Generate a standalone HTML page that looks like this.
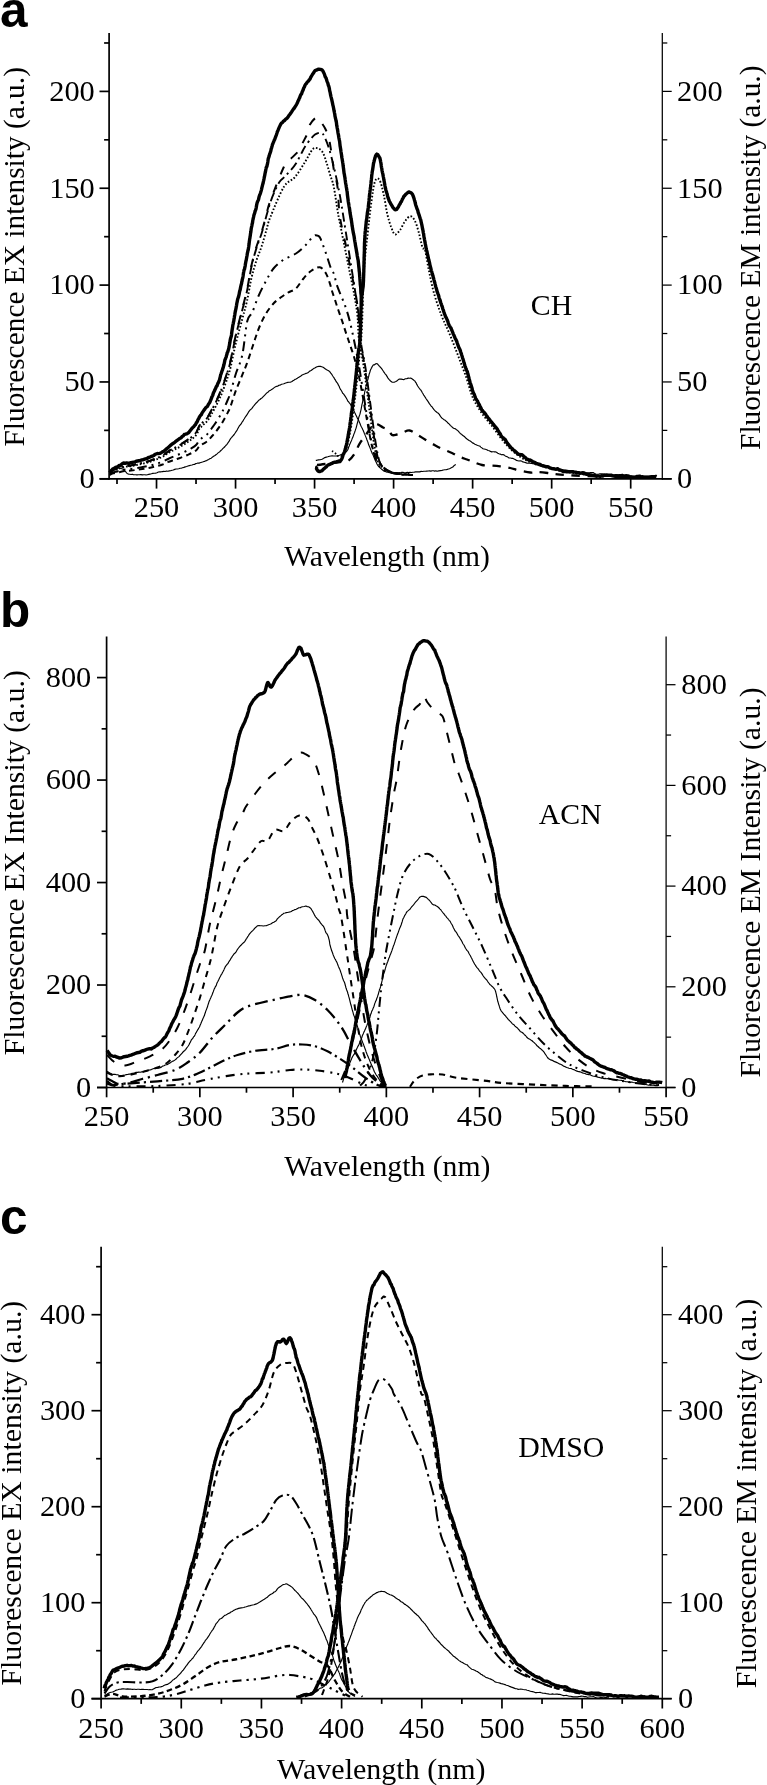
<!DOCTYPE html>
<html><head><meta charset="utf-8"><title>Fluorescence spectra</title>
<style>html,body{margin:0;padding:0;background:#fff}svg{display:block;filter:grayscale(1)}text{fill:#000}</style>
</head><body>
<svg width="767" height="1785" viewBox="0 0 767 1785">
<rect x="0" y="0" width="767" height="1785" fill="#fff"/>
<path d="M109.8,472.7L110.6,471.4L111.7,470.1L113.0,468.8L114.1,468.4L115.3,467.5L116.6,467.2L118.0,466.5L119.3,465.4L120.7,465.3L122.2,463.8L123.6,463.0L125.0,463.4L126.6,462.9L128.0,463.2L129.5,463.2L131.0,462.7L132.3,462.4L133.6,462.1L134.9,461.9L136.2,461.2L137.5,461.0L138.8,460.8L140.1,460.6L141.4,460.0L142.7,459.9L144.0,459.4L145.5,458.8L147.0,458.5L148.5,457.5L150.0,457.1L151.2,456.5L152.4,456.2L153.6,455.6L154.8,454.6L156.0,454.0L157.3,453.5L158.6,453.6L159.9,453.4L161.2,452.8L162.5,451.7L163.6,451.5L164.7,450.4L165.8,449.4L166.9,448.5L167.9,447.8L169.0,446.8L170.2,445.6L171.4,444.6L172.6,443.7L173.8,443.0L175.0,442.1L176.2,441.0L177.4,440.3L178.6,439.3L179.8,438.4L181.0,438.0L182.1,436.5L183.2,436.0L184.3,434.5L185.5,434.2L186.5,433.9L187.5,433.4L188.8,432.5L189.9,431.0L190.9,429.7L192.0,428.3L192.9,427.3L193.8,426.7L194.7,425.3L195.5,424.7L196.3,422.8L196.9,422.2L197.5,421.0L198.0,419.7L198.5,418.9L199.0,417.9L199.8,416.4L200.5,415.4L201.3,414.7L202.1,412.9L203.0,411.6L204.0,410.1L204.8,409.1L205.7,407.8L206.6,407.0L207.5,406.3L208.1,405.1L208.6,404.1L209.2,403.3L209.8,402.4L210.4,400.8L211.0,399.6L211.5,398.0L212.1,396.5L212.7,395.5L213.3,393.2L213.8,392.1L214.4,391.0L215.0,389.5L215.5,388.6L216.0,387.3L216.5,386.3L217.0,385.9L217.5,384.3L218.0,383.1L218.5,382.4L219.0,381.0L219.5,380.0L219.9,378.2L220.3,376.8L220.7,374.5L221.1,373.8L221.5,372.5L222.0,370.9L222.5,369.8L222.8,368.4L223.2,367.7L223.5,366.3L223.9,364.8L224.3,363.1L224.6,361.7L225.0,359.7L225.4,359.0L225.8,357.7L226.2,356.9L226.5,355.5L226.9,354.4L227.2,352.8L227.5,352.4L227.9,351.5L228.2,350.2L228.5,349.6L228.7,348.5L229.0,347.5L229.2,346.4L229.5,344.4L229.8,342.9L230.1,340.9L230.5,338.6L230.7,337.9L230.9,337.7L231.1,336.7L231.3,336.2L231.5,334.8L231.7,333.0L231.9,331.5L232.1,330.1L232.3,328.9L232.6,326.9L232.8,325.4L233.0,324.5L233.3,323.3L233.5,321.9L233.8,320.9L234.0,319.2L234.3,317.8L234.5,316.1L234.8,314.8L235.0,313.3L235.3,311.5L235.5,310.8L235.8,309.2L236.0,308.5L236.3,306.6L236.5,305.6L236.8,303.5L237.1,302.1L237.3,301.1L237.6,299.6L237.9,298.4L238.2,297.8L238.5,296.9L238.8,295.6L239.1,294.6L239.3,293.3L239.6,291.5L239.9,290.5L240.2,289.6L240.5,287.9L240.8,286.4L241.0,285.5L241.3,284.3L241.6,283.2L241.8,281.8L242.1,280.9L242.3,279.3L242.6,278.5L242.9,277.1L243.2,275.2L243.5,272.9L243.8,271.5L244.1,269.8L244.4,269.6L244.6,268.7L244.9,267.2L245.2,265.8L245.4,264.1L245.7,262.5L245.9,261.3L246.2,260.2L246.5,258.5L246.7,257.3L247.0,255.7L247.2,254.4L247.4,252.9L247.6,252.5L247.8,251.2L248.1,250.4L248.3,249.4L248.5,248.0L248.7,246.8L248.9,245.1L249.1,243.9L249.3,241.8L249.5,240.4L249.7,238.9L249.9,238.1L250.1,236.4L250.3,235.7L250.5,233.7L250.8,232.1L251.0,230.6L251.2,228.8L251.4,227.7L251.6,226.8L251.9,225.6L252.2,223.7L252.5,222.7L252.7,221.0L253.0,219.5L253.3,218.2L253.6,216.9L253.9,215.3L254.2,214.4L254.5,213.5L254.8,212.6L255.1,211.1L255.4,210.7L255.7,209.8L256.0,208.9L256.3,207.3L256.6,205.2L257.0,203.3L257.4,202.0L257.7,201.3L258.1,200.5L258.5,199.6L258.9,197.7L259.2,196.5L259.6,195.2L260.0,194.5L260.4,193.3L260.7,192.2L261.1,191.0L261.5,189.6L261.8,188.0L262.1,186.8L262.4,185.6L262.7,184.3L263.1,183.2L263.4,181.5L263.7,180.4L264.0,178.9L264.2,177.7L264.5,176.5L264.8,174.9L265.1,173.1L265.4,172.0L265.7,170.4L266.0,168.8L266.2,167.5L266.5,167.2L266.9,166.3L267.2,164.9L267.5,163.8L267.8,162.0L268.1,159.7L268.4,158.2L268.8,157.3L269.1,156.3L269.4,155.0L269.7,154.2L270.0,153.3L270.4,152.2L270.8,151.0L271.2,148.9L271.6,147.8L272.1,146.0L272.5,144.3L272.9,143.6L273.4,142.2L273.8,141.4L274.2,140.2L274.7,139.5L275.1,138.3L275.7,136.6L276.3,135.1L276.9,133.3L277.4,131.6L278.0,130.5L278.6,128.8L279.2,127.4L279.8,126.1L280.7,124.2L281.6,122.9L282.5,122.4L283.5,121.2L284.5,120.5L285.3,119.6L286.2,118.8L287.1,118.1L288.1,116.9L289.0,115.4L289.9,114.4L290.8,113.0L291.6,111.9L292.4,110.6L293.2,109.4L294.0,108.5L294.8,107.3L295.5,106.2L296.3,104.9L296.9,103.8L297.4,102.8L298.0,101.2L298.6,100.2L299.1,98.7L299.7,97.6L300.2,96.1L300.8,94.7L301.2,94.3L301.7,93.5L302.3,91.6L302.8,90.7L303.3,89.5L303.8,87.8L304.3,87.0L305.0,85.3L305.6,84.2L306.2,83.7L307.0,82.6L307.7,81.6L308.5,81.1L309.3,79.7L310.0,79.1L310.7,77.3L311.3,76.5L312.4,74.5L313.3,73.2L314.1,72.0L315.0,70.6L316.3,70.2L317.6,69.5L318.8,69.2L320.5,69.4L322.0,69.9L322.8,70.8L323.6,72.4L324.5,74.4L324.9,75.7L325.2,76.7L325.6,77.3L326.1,78.1L326.5,79.4L326.9,80.8L327.4,82.1L327.9,83.3L328.3,85.2L328.8,86.3L329.1,87.4L329.4,88.8L329.6,90.4L329.9,91.5L330.2,92.7L330.5,94.5L330.8,95.8L331.1,97.1L331.4,98.2L331.7,99.4L332.0,100.8L332.3,102.2L332.6,103.7L332.9,105.3L333.2,106.2L333.5,107.8L333.8,109.4L334.0,110.5L334.3,111.8L334.5,113.0L334.8,114.4L335.0,116.2L335.3,117.4L335.5,118.5L335.8,119.5L336.0,120.7L336.3,121.8L336.5,123.2L336.7,125.3L337.0,126.7L337.2,128.1L337.5,129.4L337.7,130.6L337.9,132.2L338.2,134.0L338.4,134.4L338.6,136.1L338.8,137.3L339.0,138.3L339.2,139.4L339.5,140.8L339.7,142.1L339.9,144.2L340.1,146.0L340.3,146.8L340.4,147.8L340.6,148.9L340.8,150.1L341.0,151.7L341.2,153.0L341.4,154.2L341.6,155.4L341.7,156.8L341.9,157.9L342.1,158.7L342.3,160.0L342.5,161.2L342.7,162.5L342.9,163.6L343.1,165.6L343.3,166.9L343.5,168.6L343.7,170.0L343.9,171.7L344.1,173.4L344.3,174.0L344.5,175.3L344.7,176.7L344.9,177.5L345.1,179.3L345.3,180.3L345.5,182.2L345.7,183.4L345.9,184.4L346.1,185.2L346.3,187.0L346.5,188.0L346.7,189.2L346.9,190.6L347.1,191.5L347.3,193.3L347.4,194.8L347.6,196.2L347.8,197.8L348.0,199.2L348.2,201.2L348.4,202.3L348.6,203.4L348.8,204.4L349.0,205.8L349.2,207.0L349.4,207.9L349.6,209.1L349.8,210.8L350.0,212.4L350.2,213.6L350.4,214.8L350.6,215.9L350.8,217.1L351.0,218.4L351.3,219.9L351.5,221.0L351.7,222.5L351.9,223.8L352.1,225.9L352.4,227.2L352.6,228.9L352.8,229.8L353.0,231.0L353.2,232.1L353.5,233.7L353.7,234.5L353.9,235.5L354.1,236.4L354.3,237.8L354.5,239.4L354.8,241.3L355.0,242.2L355.3,243.9L355.5,245.6L355.8,247.0L356.0,248.1L356.3,249.7L356.5,251.2L356.7,252.1L357.0,253.9L357.2,255.5L357.4,256.8L357.6,257.4L357.8,258.9L358.0,259.5L358.2,260.6L358.4,262.5L358.5,263.7L358.7,265.6L358.8,266.5L359.0,268.2L359.1,269.2L359.2,270.9L359.4,272.0L359.5,273.2L359.6,274.5L359.7,276.2L359.8,277.0L359.9,278.9L360.0,280.2L360.1,281.3L360.2,282.5L360.3,284.5L360.4,285.0L360.6,286.4L360.7,287.5L360.8,289.5L360.8,290.5L360.9,293.0L361.0,293.8L361.1,294.3L361.2,295.3L361.2,296.2L361.3,297.5L361.4,299.6L361.5,301.6L361.6,303.0L361.7,304.2L361.8,304.8L361.8,306.1" fill="none" stroke="#000" stroke-width="3.40" stroke-linejoin="round" stroke-linecap="butt"/>
<path d="M109.8,472.6C110.3,472.2 111.6,470.8 113.0,470.0C114.4,469.3 116.0,469.0 118.0,468.3C120.0,467.7 122.8,466.5 125.0,466.1C127.2,465.6 128.9,465.7 131.0,465.4C133.1,465.0 135.3,464.4 137.5,463.9C139.7,463.4 141.9,462.9 144.0,462.4C146.1,461.9 148.0,461.4 150.0,460.7C152.0,460.0 153.9,459.3 156.0,458.4C158.1,457.5 160.3,456.7 162.5,455.4C164.7,454.2 166.9,452.2 169.0,450.9C171.1,449.6 173.0,448.7 175.0,447.5C177.0,446.4 178.9,445.4 181.0,444.1C183.1,442.8 185.7,441.1 187.5,439.9C189.3,438.6 190.5,437.8 192.0,436.5C193.5,435.2 195.1,433.8 196.3,432.1C197.5,430.4 198.2,427.7 199.0,426.3C199.8,424.9 200.5,424.5 201.3,423.6C202.1,422.6 203.0,421.8 204.0,420.7C205.0,419.7 206.3,418.8 207.5,417.2C208.7,415.5 209.8,413.3 211.0,411.0C212.2,408.7 213.7,406.0 215.0,403.3C216.3,400.6 217.8,397.7 219.0,394.8C220.2,392.0 221.1,390.2 222.5,386.3C223.9,382.4 226.2,375.7 227.5,371.4C228.8,367.2 229.1,366.9 230.5,360.7C231.9,354.4 234.0,342.7 236.0,334.0C238.0,325.4 240.5,316.3 242.3,309.0C244.1,301.6 245.4,297.2 247.0,289.8C248.6,282.5 250.0,271.9 251.6,264.8C253.2,257.7 254.6,252.8 256.3,247.3C258.0,241.7 260.1,236.8 261.8,231.3C263.5,225.7 265.1,219.1 266.5,214.0C267.9,208.9 267.5,208.5 270.4,200.7C273.3,192.8 280.7,173.6 283.8,167.0C286.9,160.4 286.3,163.5 288.8,160.8C291.3,158.1 296.5,153.7 298.8,150.8C301.1,147.9 301.1,146.2 302.5,143.3C303.9,140.4 306.2,136.4 307.5,133.3C308.8,130.2 308.5,127.1 310.0,124.5C311.5,121.9 314.6,118.1 316.3,117.5C318.0,116.9 318.6,119.0 320.0,120.8C321.4,122.6 323.5,125.4 325.0,128.3C326.5,131.2 327.8,134.4 328.8,138.3C329.9,142.2 330.5,146.8 331.3,152.0C332.1,157.2 332.8,163.7 333.8,169.5C334.8,175.3 336.5,179.2 337.5,187.0C338.5,194.8 338.4,206.2 339.8,216.0C341.2,225.8 344.1,236.8 346.0,246.0C347.9,255.2 349.3,262.7 351.0,271.0C352.7,279.3 354.8,288.5 356.0,296.0C357.2,303.5 357.9,308.7 358.5,316.0C359.1,323.3 358.8,331.6 359.8,339.8C360.8,348.0 362.9,354.6 364.5,365.0C366.1,375.4 367.8,390.0 369.5,402.5C371.2,415.0 373.0,430.4 374.5,440.0C376.0,449.6 377.1,455.7 378.3,460.0C379.6,464.3 380.1,464.1 382.0,466.0C383.9,467.9 386.6,470.1 389.5,471.5C392.4,472.9 395.8,473.8 399.5,474.3C403.2,474.8 409.9,474.6 412.0,474.6" fill="none" stroke="#000" stroke-width="2.00" stroke-linejoin="round" stroke-linecap="butt" stroke-dasharray="8.5,11"/>
<path d="M109.8,472.6C110.3,472.2 111.6,470.8 113.0,470.1C114.4,469.4 116.0,469.1 118.0,468.4C120.0,467.7 122.8,466.6 125.0,466.1C127.2,465.6 128.9,465.8 131.0,465.4C133.1,465.1 135.3,464.5 137.5,464.0C139.7,463.5 141.9,463.0 144.0,462.5C146.1,462.0 148.0,461.5 150.0,460.8C152.0,460.1 153.9,459.4 156.0,458.5C158.1,457.6 160.3,456.8 162.5,455.6C164.7,454.3 166.9,452.4 169.0,451.1C171.1,449.8 173.0,448.8 175.0,447.7C177.0,446.6 178.9,445.6 181.0,444.3C183.1,443.1 185.7,441.4 187.5,440.1C189.3,438.8 190.5,438.0 192.0,436.7C193.5,435.4 195.1,434.0 196.3,432.3C197.5,430.6 198.2,428.0 199.0,426.6C199.8,425.2 200.5,424.8 201.3,423.9C202.1,423.0 203.0,422.1 204.0,421.1C205.0,420.0 206.3,419.2 207.5,417.5C208.7,415.9 209.8,413.7 211.0,411.4C212.2,409.1 213.7,406.4 215.0,403.8C216.3,401.1 217.8,398.1 219.0,395.3C220.2,392.5 221.1,390.7 222.5,386.9C223.9,383.0 226.2,376.3 227.5,372.1C228.8,367.8 229.1,367.5 230.5,361.3C231.9,355.1 234.0,343.5 236.0,334.9C238.0,326.3 240.5,317.3 242.3,310.0C244.1,302.6 245.4,298.3 247.0,291.0C248.6,283.6 250.0,273.1 251.6,266.0C253.2,259.0 254.6,254.2 256.3,248.6C258.0,243.1 260.1,238.2 261.8,232.7C263.5,227.2 265.1,220.7 266.5,215.6C267.9,210.5 269.0,206.5 270.4,202.3C271.8,198.1 273.5,194.0 275.1,190.5C276.7,187.0 278.2,183.8 279.8,181.5C281.4,179.3 282.7,178.8 284.5,176.9C286.3,175.0 288.8,172.4 290.8,170.1C292.8,167.8 294.5,165.8 296.3,162.9C298.1,160.1 300.2,155.5 301.7,152.8C303.1,150.1 303.4,149.1 305.0,146.7C306.6,144.3 309.6,140.3 311.3,138.3C313.0,136.3 313.8,135.5 315.0,134.6C316.2,133.7 317.6,133.2 318.8,132.9C320.0,132.7 321.1,132.7 322.0,133.4C322.9,134.0 323.4,134.3 324.5,136.7C325.6,139.1 327.2,142.7 328.8,147.7C330.4,152.7 332.1,159.7 333.8,166.7C335.5,173.8 337.4,182.6 338.8,190.0C340.2,197.4 339.6,192.8 342.5,211.1C345.4,229.4 353.7,281.9 356.5,300.0C359.3,318.1 358.4,312.8 359.2,320.0C359.9,327.2 359.9,335.0 361.0,343.0C362.1,351.0 363.9,357.7 365.5,368.0C367.1,378.3 368.8,392.7 370.5,405.0C372.2,417.3 374.0,432.7 375.5,442.0C377.0,451.3 378.1,456.8 379.3,461.0C380.6,465.2 381.1,465.2 383.0,467.0C384.9,468.8 387.6,470.8 390.5,472.0C393.4,473.2 396.8,474.0 400.5,474.5C404.2,475.0 410.9,474.9 413.0,475.0" fill="none" stroke="#000" stroke-width="1.90" stroke-linejoin="round" stroke-linecap="butt" stroke-dasharray="9,4,2,4"/>
<path d="M109.8,473.0C110.3,472.6 111.6,471.2 113.0,470.6C114.4,469.9 116.0,469.6 118.0,469.0C120.0,468.3 122.8,467.3 125.0,466.8C127.2,466.3 128.9,466.5 131.0,466.2C133.1,465.8 135.3,465.3 137.5,464.8C139.7,464.3 141.9,463.9 144.0,463.4C146.1,462.9 148.0,462.4 150.0,461.8C152.0,461.1 153.9,460.4 156.0,459.6C158.1,458.8 160.3,458.0 162.5,456.8C164.7,455.6 166.9,453.8 169.0,452.6C171.1,451.3 173.0,450.4 175.0,449.4C177.0,448.3 178.9,447.4 181.0,446.2C183.1,445.0 185.7,443.4 187.5,442.2C189.3,441.0 190.5,440.2 192.0,439.0C193.5,437.7 195.1,436.4 196.3,434.8C197.5,433.2 198.2,430.7 199.0,429.4C199.8,428.0 200.5,427.7 201.3,426.8C202.1,425.9 203.0,425.2 204.0,424.2C205.0,423.2 206.3,422.3 207.5,420.8C208.7,419.3 209.8,417.1 211.0,415.0C212.2,412.8 213.7,410.3 215.0,407.8C216.3,405.2 217.8,402.4 219.0,399.8C220.2,397.1 221.1,395.4 222.5,391.8C223.9,388.1 226.2,381.8 227.5,377.8C228.8,373.7 229.1,373.5 230.5,367.6C231.9,361.7 234.0,350.7 236.0,342.6C238.0,334.5 240.5,325.9 242.3,319.0C244.1,312.0 245.4,307.9 247.0,301.0C248.6,294.0 250.0,284.0 251.6,277.4C253.2,270.7 254.6,266.1 256.3,260.9C258.0,255.6 260.1,251.1 261.8,245.8C263.5,240.6 265.1,234.4 266.5,229.6C267.9,224.8 267.5,224.1 270.4,217.0C273.3,209.9 279.7,193.7 283.8,187.0C287.9,180.3 291.5,181.2 295.0,177.0C298.5,172.8 302.1,166.6 305.0,162.0C307.9,157.4 310.4,151.8 312.5,149.5C314.6,147.2 315.8,147.9 317.5,148.3C319.2,148.7 321.0,149.7 322.5,152.0C324.0,154.3 325.1,158.2 326.3,162.0C327.6,165.8 328.8,170.3 330.0,174.5C331.2,178.7 332.4,180.1 333.8,187.0C335.2,193.9 336.7,206.2 338.5,216.0C340.3,225.8 342.7,236.8 344.5,246.0C346.3,255.2 347.8,262.7 349.5,271.0C351.2,279.3 353.2,288.5 354.5,296.0C355.8,303.5 356.8,308.7 357.5,316.0C358.2,323.3 358.0,331.6 359.0,339.8C360.0,348.0 361.9,354.6 363.5,365.0C365.1,375.4 366.8,390.0 368.5,402.5C370.2,415.0 372.0,430.4 373.5,440.0C375.0,449.6 376.1,455.7 377.3,460.0C378.6,464.3 379.1,464.2 381.0,466.0C382.9,467.8 385.6,469.7 388.5,471.0C391.4,472.3 394.8,473.3 398.5,473.8C402.2,474.3 408.9,474.0 411.0,474.0" fill="none" stroke="#000" stroke-width="1.90" stroke-linejoin="round" stroke-linecap="butt" stroke-dasharray="1.6,1.9"/>
<path d="M109.8,474.3C110.3,474.0 111.6,472.9 113.0,472.4C114.4,471.9 116.0,471.7 118.0,471.2C120.0,470.7 122.8,469.9 125.0,469.5C127.2,469.1 128.9,469.3 131.0,469.0C133.1,468.7 135.3,468.3 137.5,467.9C139.7,467.6 141.9,467.2 144.0,466.8C146.1,466.4 148.0,466.1 150.0,465.6C152.0,465.1 153.9,464.6 156.0,463.9C158.1,463.3 160.3,462.7 162.5,461.8C164.7,460.8 166.9,459.4 169.0,458.5C171.1,457.5 173.0,456.8 175.0,456.0C177.0,455.2 178.9,454.4 181.0,453.5C183.1,452.6 185.7,451.3 187.5,450.4C189.3,449.5 190.5,448.9 192.0,447.9C193.5,447.0 195.1,445.9 196.3,444.7C197.5,443.5 198.2,441.5 199.0,440.5C199.8,439.5 200.5,439.2 201.3,438.5C202.1,437.8 203.0,437.2 204.0,436.5C205.0,435.7 206.3,435.0 207.5,433.9C208.7,432.7 209.8,431.0 211.0,429.3C212.2,427.6 213.7,425.7 215.0,423.7C216.3,421.8 217.8,419.6 219.0,417.5C220.2,415.5 221.1,414.2 222.5,411.3C223.9,408.5 226.2,403.6 227.5,400.5C228.8,397.4 229.1,397.2 230.5,392.6C231.9,388.1 234.0,379.5 236.0,373.2C238.0,366.9 240.4,363.6 242.3,354.9C244.2,346.2 245.6,328.1 247.3,321.0C249.0,313.9 250.4,316.5 252.3,312.3C254.2,308.1 256.2,301.2 258.5,296.0C260.8,290.8 263.5,285.6 266.0,281.0C268.5,276.4 270.6,272.0 273.5,268.5C276.4,265.0 279.8,262.3 283.5,259.8C287.2,257.3 292.2,256.0 296.0,253.5C299.8,251.0 303.1,247.7 306.0,244.8C308.9,241.9 311.4,237.5 313.5,236.0C315.6,234.5 317.2,235.4 318.5,236.0C319.8,236.6 319.8,236.9 321.0,239.8C322.2,242.7 324.3,248.7 326.0,253.5C327.7,258.3 329.6,265.0 331.0,268.5C332.4,272.0 333.3,271.9 334.2,274.4C335.1,276.9 335.3,280.0 336.3,283.3C337.3,286.6 338.9,290.5 340.4,294.2C341.9,297.9 343.5,301.1 345.1,305.7C346.7,310.3 348.4,315.4 350.0,322.0C351.6,328.6 353.3,336.7 355.0,345.0C356.7,353.3 358.2,361.2 360.0,372.0C361.8,382.8 364.0,397.8 366.0,410.0C368.0,422.2 370.2,436.3 372.0,445.0C373.8,453.7 375.0,457.8 377.0,462.0C379.0,466.2 381.0,468.1 384.0,470.0C387.0,471.9 390.7,472.8 395.0,473.5C399.3,474.2 407.5,474.3 410.0,474.5" fill="none" stroke="#000" stroke-width="2.00" stroke-linejoin="round" stroke-linecap="butt" stroke-dasharray="9.5,5,2,5,2,5"/>
<path d="M109.8,475.0C110.3,474.7 111.6,473.9 113.0,473.4C114.4,473.0 116.0,472.8 118.0,472.4C120.0,472.0 122.8,471.3 125.0,471.0C127.2,470.7 128.9,470.8 131.0,470.6C133.1,470.4 135.3,470.0 137.5,469.7C139.7,469.4 141.9,469.1 144.0,468.8C146.1,468.4 148.0,468.1 150.0,467.7C152.0,467.3 153.9,466.9 156.0,466.3C158.1,465.8 160.3,465.3 162.5,464.5C164.7,463.7 166.9,462.6 169.0,461.7C171.1,460.9 173.0,460.4 175.0,459.7C177.0,459.0 178.9,458.4 181.0,457.6C183.1,456.8 185.7,455.8 187.5,455.0C189.3,454.2 190.5,453.7 192.0,452.9C193.5,452.1 195.1,451.2 196.3,450.2C197.5,449.2 198.2,447.5 199.0,446.7C199.8,445.8 200.5,445.6 201.3,445.0C202.1,444.4 203.0,443.9 204.0,443.3C205.0,442.6 206.3,442.1 207.5,441.1C208.7,440.1 209.8,438.7 211.0,437.3C212.2,435.9 213.7,434.3 215.0,432.6C216.3,431.0 217.8,429.2 219.0,427.4C220.2,425.7 221.1,424.6 222.5,422.2C223.9,419.8 226.2,415.7 227.5,413.1C228.8,410.5 229.1,410.3 230.5,406.5C231.9,402.7 234.0,395.5 236.0,390.2C238.0,385.0 240.5,379.4 242.3,374.9C244.1,370.4 244.9,369.1 247.0,363.2C249.1,357.4 252.7,346.0 254.8,339.8C256.9,333.6 257.9,330.4 259.8,326.0C261.7,321.6 263.7,317.2 266.0,313.5C268.3,309.8 271.0,306.2 273.5,303.5C276.0,300.8 278.5,299.2 281.0,297.3C283.5,295.4 286.0,293.8 288.5,292.3C291.0,290.8 293.5,290.8 296.0,288.5C298.5,286.2 301.0,281.4 303.5,278.5C306.0,275.6 308.3,272.9 311.0,271.0C313.7,269.1 317.3,266.9 319.8,267.3C322.3,267.7 324.3,270.8 326.0,273.5C327.7,276.2 329.0,280.9 330.0,283.8C331.0,286.7 331.1,288.2 332.0,291.0C332.9,293.8 334.1,297.3 335.2,300.5C336.2,303.7 337.2,306.9 338.3,310.0C339.4,313.1 340.4,316.1 341.5,319.2C342.6,322.3 343.6,325.5 344.6,328.6C345.6,331.7 346.6,334.9 347.7,338.0C348.8,341.1 349.8,344.3 350.9,347.4C351.9,350.5 352.8,352.7 354.0,356.8C355.2,360.9 356.7,366.1 358.0,372.0C359.3,377.9 360.5,384.0 362.0,392.0C363.5,400.0 365.3,411.0 367.0,420.0C368.7,429.0 370.3,439.8 372.0,446.0C373.7,452.2 375.1,453.9 377.0,457.5C378.9,461.1 380.8,465.0 383.3,467.5C385.8,470.0 388.4,471.3 392.0,472.5C395.6,473.7 402.8,474.2 405.0,474.5" fill="none" stroke="#000" stroke-width="2.00" stroke-linejoin="round" stroke-linecap="butt" stroke-dasharray="5.7,4.2"/>
<path d="M110.0,472.3L110.8,471.6L112.0,470.4L113.5,469.4L115.0,468.5L116.4,468.3L117.9,468.2L119.5,468.0L121.0,468.5L122.5,469.0L123.7,469.6L124.8,470.8L125.8,471.9L127.1,473.5L128.8,474.2L129.8,474.2L131.0,474.5L132.2,474.2L133.4,474.6L134.8,474.7L136.2,474.8L137.7,474.8L139.2,474.7L140.8,474.6L142.5,474.9L143.7,474.7L144.9,474.7L146.1,475.0L147.4,474.7L148.7,474.4L150.0,474.1L151.4,473.8L152.8,473.4L154.2,473.2L155.6,473.1L157.0,472.8L158.4,472.0L159.8,471.8L161.2,471.8L162.5,471.6L163.8,471.4L165.2,471.5L166.5,471.0L167.9,471.2L169.3,470.9L170.6,470.7L172.0,470.3L173.3,470.0L174.7,469.4L176.0,469.0L177.3,469.0L178.7,468.7L180.0,468.3L181.2,468.2L182.5,467.8L183.9,467.4L185.2,466.9L186.6,466.5L188.0,466.0L189.3,465.6L190.7,465.3L192.0,465.0L193.3,464.5L194.6,464.4L195.8,463.6L197.0,463.3L198.0,463.0L199.1,463.1L200.0,462.7L201.8,462.2L203.2,461.8L204.4,461.4L205.4,460.9L206.4,460.8L207.5,460.1L208.7,459.5L209.9,458.6L211.1,458.3L212.3,457.2L213.6,456.3L215.0,455.5L215.9,454.8L216.8,454.1L217.8,453.1L218.8,452.4L219.8,451.7L220.9,450.5L221.9,449.6L223.0,448.4L224.0,447.5L225.0,446.5L225.8,445.5L226.7,444.6L227.5,443.6L228.3,442.3L229.2,441.2L230.0,439.6L230.8,438.3L231.7,437.4L232.5,436.3L233.3,435.5L234.2,434.5L235.0,433.3L235.7,432.2L236.4,431.2L237.1,430.1L237.9,428.5L238.6,427.2L239.3,426.0L240.0,425.2L240.7,424.5L241.4,423.4L242.1,422.1L242.9,421.2L243.6,419.8L244.3,418.7L245.0,417.5L245.8,416.4L246.7,415.2L247.5,413.9L248.3,412.4L249.2,411.1L250.0,410.2L250.8,409.4L251.7,408.7L252.5,407.7L253.3,406.3L254.2,405.4L255.0,404.3L256.0,403.2L257.0,402.3L258.0,401.2L259.0,400.1L260.0,399.5L261.0,398.5L262.0,397.9L263.0,396.8L264.0,395.8L265.0,394.8L266.1,393.7L267.2,392.6L268.3,391.9L269.4,390.7L270.6,390.2L271.7,389.4L272.8,388.8L273.9,387.9L275.0,387.1L276.3,386.4L277.6,386.3L278.9,385.3L280.2,385.1L281.5,384.2L282.7,384.0L283.9,383.7L285.0,383.2L286.5,382.7L287.8,382.4L288.9,382.3L290.3,382.2L292.0,381.5L292.9,380.8L293.9,380.3L295.0,379.4L296.1,379.0L297.3,378.3L298.5,377.4L299.7,376.7L300.9,376.0L302.2,374.9L303.3,374.5L304.5,374.0L305.8,373.4L307.1,373.1L308.4,372.4L309.7,371.1L311.1,370.5L312.4,369.5L313.6,368.6L314.8,368.0L316.0,367.2L317.0,366.7L318.8,366.4L320.4,366.4L321.7,366.8L323.1,367.3L324.5,368.2L325.5,369.1L326.6,369.8L327.6,370.2L328.6,370.7L329.7,371.6L330.8,373.2L332.0,374.7L332.6,375.7L333.3,376.8L334.0,377.7L334.7,379.2L335.4,380.0L336.1,381.5L336.8,382.3L337.6,383.3L338.3,384.9L339.1,386.2L339.8,388.0L340.5,389.4L341.3,390.5L342.0,391.8L342.7,393.2L343.5,393.9L344.2,394.9L344.9,395.9L345.7,397.1L346.4,398.2L347.2,399.7L347.9,401.2L348.6,401.7L349.3,402.9L350.0,403.7L350.7,404.7L351.4,406.3L352.0,407.2L352.7,408.6L353.4,409.8L354.1,411.2L354.7,412.5L355.3,413.7L355.9,415.0L356.5,416.2L357.1,417.6L357.7,418.6L358.3,419.8L358.9,421.0L359.5,422.4L360.0,423.5L360.6,425.2L361.1,426.3L361.6,427.3L362.2,428.3L362.7,429.4L363.2,430.6L363.8,431.9L364.3,433.2L364.9,434.6L365.4,435.9L365.9,437.1L366.5,438.5L367.0,440.0L367.5,441.3L368.0,442.5L368.5,444.3L369.1,445.7L369.6,446.8L370.1,448.1L370.6,449.3L371.2,451.0L371.7,452.1L372.2,453.6L372.7,454.1L373.2,455.4L373.6,456.4L374.1,457.5L374.5,458.5L375.3,460.6L376.1,462.1L376.7,463.5L377.4,464.7L378.0,465.7L378.7,466.5L379.5,467.3L380.6,468.2L381.7,469.3L382.9,470.2L384.2,471.2L385.8,471.6L386.9,472.2L388.0,472.1L389.3,472.6L390.5,472.6L391.9,472.9L393.5,472.8L395.1,472.6L397.0,472.6L398.1,472.8L399.2,472.6L400.4,472.7L401.7,472.4L403.0,472.4L404.4,472.7L405.7,472.8L407.2,472.4L408.6,472.5L410.0,472.3L411.4,472.5L412.9,472.2L414.3,472.1L415.6,471.9L417.0,471.9L418.3,471.9L419.7,471.9L421.1,471.4L422.5,471.5L423.9,471.2L425.4,471.2L426.8,471.1L428.2,471.0L429.5,470.9L430.9,471.1L432.2,470.7L433.5,470.7L434.7,471.1L435.9,470.8L437.0,471.3L438.8,470.9L440.4,470.6L442.0,470.4L443.4,470.0L444.8,469.8L446.1,469.7L447.3,469.4L448.4,469.0L449.5,468.7L451.3,467.8L452.8,467.1L454.0,465.7L455.0,464.9L455.8,464.5" fill="none" stroke="#000" stroke-width="1.15" stroke-linejoin="round" stroke-linecap="butt"/>
<path d="M317.5,466.6L316.8,467.1L316.5,468.7L317.1,469.8L318.2,471.1L319.5,471.6L320.6,471.1L321.9,470.8L323.2,469.4L324.5,468.4L325.4,467.5L326.3,466.8L327.2,465.7L328.3,464.8L329.5,464.5L330.6,463.9L331.9,463.4L333.3,462.6L334.7,462.2L336.0,462.0L337.3,461.7L338.3,461.2L339.6,460.9L340.5,460.8L341.2,459.9L342.0,458.5L342.5,457.0L342.9,455.5L343.4,454.2L343.9,453.3L344.4,452.0L344.9,450.4L345.3,449.1L345.8,447.3L346.0,446.3L346.3,445.2L346.5,444.3L346.8,443.1L347.0,441.7L347.3,440.5L347.5,439.1L347.8,438.1L348.0,436.5L348.3,435.1L348.5,433.6L348.8,432.2L349.0,431.0L349.3,429.2L349.5,428.1L349.7,426.8L349.9,425.7L350.0,424.2L350.2,422.7L350.4,421.6L350.6,420.3L350.8,418.3L351.0,417.0L351.2,415.4L351.4,413.8L351.6,411.8L351.8,410.9L351.9,410.3L352.1,409.5L352.3,408.0L352.5,406.5L352.7,404.8L352.8,403.3L353.0,401.9L353.1,400.8L353.3,399.5L353.5,398.3L353.7,397.1L353.8,395.6L354.0,394.4L354.1,392.7L354.3,391.5L354.4,389.4L354.6,388.4L354.7,387.4L354.8,385.9L355.0,385.1L355.1,383.9L355.2,382.5L355.4,381.5L355.5,379.9L355.7,378.6L355.8,377.3L355.9,375.8L356.1,375.0L356.2,373.4L356.3,372.5L356.5,370.8L356.6,369.2L356.8,367.4L356.9,366.0L357.0,364.6L357.2,363.4L357.3,362.3L357.4,360.5L357.6,359.2L357.7,357.8L357.8,356.6L358.0,355.3L358.1,354.2L358.2,353.2L358.3,352.4L358.5,350.7L358.7,349.3L358.9,348.3L359.1,347.6L359.3,346.5L359.5,345.3L359.7,344.0L359.8,342.0L360.0,339.4L360.1,338.5L360.1,337.5L360.2,336.7L360.2,335.7L360.2,334.5L360.3,333.0L360.3,332.0L360.4,330.8L360.4,329.6L360.5,328.1L360.5,326.9L360.5,324.9L360.6,323.3L360.6,321.3L360.7,320.2L360.7,318.9L360.8,317.4L360.8,315.3L360.8,314.0L360.9,312.6L360.9,310.7L361.0,309.3L361.0,308.9L361.1,307.8L361.1,306.9L361.2,305.6L361.2,303.8L361.3,302.4L361.4,300.6L361.5,298.8L361.7,297.3L361.8,296.4L361.9,295.3L362.1,294.5L362.2,293.6L362.3,292.3L362.5,291.2L362.6,289.9L362.8,288.7L362.9,287.9L363.0,287.0L363.2,285.9L363.3,283.9L363.4,282.1L363.5,280.6L363.5,280.1L363.5,278.6L363.6,277.6L363.6,276.7L363.7,275.0L363.7,273.4L363.8,271.9L363.8,270.7L363.8,269.5L363.9,268.2L363.9,266.8L363.9,265.4L364.0,264.4L364.0,263.3L364.0,261.5L364.1,260.8L364.1,258.7L364.1,257.5L364.2,256.4L364.2,255.0L364.3,253.7L364.3,252.4L364.4,250.8L364.4,248.4L364.4,247.2L364.5,245.3L364.5,243.4L364.6,241.8L364.7,240.3L364.7,239.4L364.8,238.2L364.9,237.6L364.9,235.7L365.0,234.7L365.1,233.0L365.2,231.8L365.4,230.5L365.5,229.4L365.6,228.0L365.8,226.8L365.9,225.2L366.1,223.5L366.2,221.9L366.4,220.8L366.5,219.6L366.7,218.9L366.9,217.5L367.0,215.8L367.2,215.0L367.3,213.5L367.5,212.0L367.7,211.6L367.8,210.5L368.0,209.2L368.2,207.9L368.3,207.2L368.5,205.5L368.6,204.0L368.8,202.5L369.0,200.9L369.1,199.2L369.3,197.5L369.4,196.2L369.6,194.3L369.7,193.5L369.9,192.2L370.0,191.0L370.2,189.8L370.3,188.9L370.5,187.9L370.7,186.1L370.8,184.7L371.0,183.2L371.1,181.4L371.3,180.0L371.4,179.1L371.6,177.6L371.7,176.0L371.8,175.0L372.0,173.7L372.1,172.8L372.2,172.0L372.4,170.7L372.5,170.4L372.8,168.4L373.1,166.4L373.4,164.2L373.7,162.7L374.0,161.7L374.3,160.5L374.5,159.6L374.8,158.5L375.0,157.9L375.6,155.8L376.2,154.7L376.8,154.1L377.9,154.8L379.0,156.7L379.5,157.6L379.9,158.0L380.5,160.9L380.7,162.1L380.9,162.9L381.1,164.2L381.3,165.9L381.5,167.3L381.8,168.6L382.0,170.3L382.3,171.6L382.5,172.6L382.8,173.8L383.0,174.9L383.3,176.6L383.5,177.5L383.8,179.4L384.1,181.0L384.4,182.5L384.7,184.3L385.0,186.0L385.3,187.4L385.6,188.7L385.9,190.2L386.2,191.3L386.6,192.2L386.9,193.3L387.2,194.3L387.5,195.7L388.0,197.6L388.6,199.1L389.1,200.7L389.6,201.6L390.2,202.6L390.7,203.7L391.3,204.6L392.2,206.1L393.1,207.8L394.0,208.5L394.9,209.6L395.8,209.7L396.7,209.4L397.5,208.1L398.4,206.9L399.2,205.1L400.0,204.0L400.7,202.4L401.3,201.7L401.9,200.4L402.6,198.7L403.2,197.9L403.8,196.5L404.8,195.5L405.7,194.3L406.7,193.5L407.5,192.8L408.8,191.9L410.0,192.4L411.2,192.8L412.5,194.3L412.9,195.3L413.2,196.2L413.6,197.1L414.0,198.4L414.5,200.2L414.9,201.4L415.3,203.3L415.8,205.2L416.3,206.6L416.6,207.5L417.0,208.9L417.4,209.5L417.8,210.7L418.2,212.7L418.6,213.4L419.0,214.9L419.4,215.9L419.8,217.3L420.2,218.6L420.6,219.4L421.0,221.1L421.3,222.7L421.6,223.9L421.9,225.1L422.1,226.2L422.4,227.9L422.6,229.0L422.9,230.1L423.1,231.3L423.3,232.8L423.6,233.7L423.8,235.6L424.0,237.1L424.3,238.2L424.5,239.6L424.8,241.0L425.0,242.1L425.3,243.9L425.6,245.3L425.9,247.0L426.2,248.8L426.5,249.9L426.8,250.9L427.1,252.2L427.4,254.0L427.7,255.0L428.0,256.3L428.3,258.0L428.6,259.2L428.8,260.1L429.2,261.3L429.5,262.6L429.8,264.4L430.0,265.3L430.4,266.8L430.8,268.2L431.3,270.6L431.6,271.3L431.9,272.2L432.2,273.3L432.5,274.2L432.8,275.6L433.2,276.9L433.5,278.0L433.9,279.6L434.3,281.0L434.7,282.4L435.1,284.2L435.5,285.8L435.9,287.2L436.3,288.4L436.7,289.8L437.1,291.5L437.5,292.5L437.9,293.6L438.3,294.6L438.7,295.8L439.1,297.9L439.5,298.7L439.9,300.0L440.3,301.0L440.7,302.7L441.1,303.5L441.5,304.8L441.9,306.0L442.4,307.2L442.8,308.9L443.2,309.7L443.7,311.5L444.1,312.6L444.5,313.9L445.0,315.0L445.5,316.5L446.0,317.3L446.6,318.5L447.1,319.8L447.7,321.1L448.2,322.7L448.8,324.4L449.3,325.7L449.9,326.5L450.5,327.4L451.0,328.1L451.6,329.8L452.1,330.9L452.7,332.3L453.3,334.1L453.8,335.0L454.3,336.2L454.8,337.5L455.3,338.6L455.8,339.4L456.3,340.3L456.8,341.5L457.3,343.2L457.8,344.6L458.3,346.2L458.8,347.5L459.3,348.3L459.8,349.3L460.3,350.5L460.7,352.0L461.2,353.3L461.6,354.8L462.1,356.2L462.5,357.7L463.0,359.1L463.4,360.4L463.8,362.1L464.3,363.2L464.7,365.3L465.1,366.5L465.5,367.2L465.9,368.4L466.3,369.3L466.6,370.3L467.0,371.0L467.4,371.8L467.7,373.5L468.1,374.5L468.4,376.1L468.8,377.3L469.2,379.0L469.7,380.9L470.1,382.7L470.5,383.5L470.9,384.7L471.3,385.9L471.7,387.2L472.1,388.5L472.4,390.2L472.8,391.1L473.1,392.3L473.5,392.8L473.8,393.5L474.4,394.8L474.9,396.2L475.3,397.5L475.7,398.5L476.3,399.3L477.0,400.5L477.5,401.1L478.1,402.5L478.7,403.6L479.4,404.8L480.1,406.5L480.8,407.6L481.6,409.5L482.3,410.5L483.2,411.5L484.0,412.5L484.7,413.0L485.5,414.0L486.3,415.4L487.1,416.3L488.0,417.8L488.8,418.7L489.7,419.8L490.6,421.1L491.4,421.9L492.3,423.0L493.2,424.2L494.0,425.1L494.8,426.3L495.5,427.0L496.3,427.9L497.1,428.8L497.8,430.1L498.6,431.5L499.4,432.7L500.2,433.8L500.9,435.3L501.7,436.6L502.5,437.4L503.2,437.8L504.0,438.9L504.9,439.1L505.8,440.7L506.7,442.3L507.6,443.4L508.5,444.6L509.5,445.9L510.4,446.9L511.3,448.0L512.2,448.7L513.1,449.7L514.0,450.3L515.1,451.1L516.2,452.2L517.3,453.4L518.4,454.3L519.6,454.4L520.7,454.8L521.8,454.6L522.9,455.5L524.0,456.6L525.2,457.4L526.4,458.8L527.6,459.3L528.8,460.0L530.1,460.0L531.3,460.7L532.6,461.5L534.0,462.1L535.1,462.5L536.3,463.4L537.6,463.7L538.8,464.3L540.1,464.5L541.4,465.4L542.7,465.7L544.0,466.0L545.2,466.5L546.5,466.7L547.9,466.6L549.3,467.5L550.7,468.2L552.1,468.6L553.4,468.7L554.8,469.0L556.2,469.1L557.6,468.7L559.0,469.8L560.4,470.1L561.8,470.8L563.2,471.5L564.6,471.4L565.9,471.7L567.3,471.6L568.7,471.7L570.1,471.7L571.5,471.7L572.9,471.9L574.3,472.1L575.7,472.2L577.1,472.6L578.4,472.6L579.8,473.0L581.2,473.1L582.6,473.2L584.0,473.4L585.4,473.8L586.7,474.3L588.0,474.4L589.3,474.8L590.6,474.9L592.0,475.2L593.4,475.4L594.9,475.5L596.5,476.2L597.7,476.1L598.9,476.1L600.1,476.3L601.4,475.8L602.8,476.0L604.1,475.3L605.5,475.4L606.9,475.1L608.3,475.2L609.7,475.3L611.1,475.1L612.6,475.8L614.0,476.1L615.3,476.3L616.5,476.2L617.8,476.2L619.1,476.0L620.4,476.2L621.7,476.5L623.0,476.6L624.4,476.6L625.7,476.4L627.1,476.7L628.4,476.5L629.8,477.2L631.2,477.2L632.6,477.2L634.0,477.2L635.3,477.2L636.7,476.5L638.1,476.4L639.6,476.1L641.1,476.9L642.7,476.8L644.2,477.2L645.7,477.2L647.2,477.2L648.7,477.2L650.1,477.2L651.5,477.2L652.7,477.0L653.8,477.0L654.9,476.6L655.8,476.6L656.5,476.9" fill="none" stroke="#000" stroke-width="3.40" stroke-linejoin="round" stroke-linecap="butt"/>
<path d="M332.0,451.0C332.5,451.3 334.0,452.2 335.0,453.0C336.0,453.8 336.7,455.7 338.0,456.0C339.3,456.3 341.5,456.7 343.0,455.0C344.5,453.3 345.7,450.6 347.0,446.0C348.3,441.4 349.7,435.2 351.0,427.5C352.3,419.8 353.8,408.3 354.8,400.0C355.9,391.7 356.5,385.4 357.3,377.5C358.1,369.6 359.1,360.4 359.8,352.5C360.6,344.6 361.1,343.1 361.8,330.0C362.5,316.9 362.9,289.6 363.8,273.8C364.8,258.0 366.2,246.9 367.5,235.0C368.8,223.1 370.1,211.4 371.3,202.5C372.6,193.6 373.6,185.1 375.0,181.3C376.4,177.6 378.0,177.7 379.5,180.0C381.0,182.3 382.5,189.2 383.8,195.0C385.1,200.8 386.2,209.6 387.5,215.0C388.8,220.4 390.1,224.2 391.3,227.5C392.6,230.8 393.6,234.1 395.0,234.5C396.4,234.9 398.3,232.2 400.0,230.0C401.7,227.8 403.3,223.6 405.0,221.3C406.7,219.0 408.4,216.5 410.0,216.3C411.6,216.1 413.0,217.3 414.5,220.0C416.0,222.7 417.5,227.9 418.8,232.5C420.1,237.1 421.5,244.6 422.5,247.5C423.5,250.4 423.9,246.2 425.0,250.0C426.1,253.8 427.3,262.9 428.8,270.0C430.3,277.1 431.7,285.0 433.8,292.5C435.9,300.0 438.6,307.9 441.3,315.0C444.0,322.1 447.1,327.9 450.0,335.0C452.9,342.1 456.1,350.4 458.8,357.5C461.5,364.6 464.2,371.4 466.3,377.5C468.4,383.6 469.9,389.7 471.3,393.8C472.8,397.9 473.2,398.7 475.0,402.0C476.8,405.3 479.2,409.5 482.0,413.5C484.8,417.5 488.7,421.7 492.0,426.0C495.3,430.3 498.7,435.4 502.0,439.5C505.3,443.6 508.7,447.4 512.0,450.5C515.3,453.6 518.7,455.9 522.0,458.0C525.3,460.1 528.2,461.5 532.0,463.0C535.8,464.5 540.7,465.8 545.0,467.0C549.3,468.2 553.7,469.4 558.0,470.3C562.3,471.2 566.7,472.0 571.0,472.7C575.3,473.4 579.2,474.0 584.0,474.5C588.8,475.0 592.3,475.4 600.0,475.8C607.7,476.2 625.0,476.6 630.0,476.8" fill="none" stroke="#000" stroke-width="1.90" stroke-linejoin="round" stroke-linecap="butt" stroke-dasharray="1.6,1.9"/>
<path d="M315.8,460.3L316.9,460.3L318.4,459.9L320.2,459.7L322.0,459.3L323.4,458.5L324.8,457.6L326.3,457.1L327.8,456.8L329.5,456.2L330.8,456.0L332.2,455.9L333.7,456.0L335.3,456.0L336.8,455.9L338.2,455.5L339.5,455.3L340.7,454.8L341.8,454.4L342.9,453.8L343.9,453.4L344.9,452.7L346.0,452.0L347.0,450.9L347.5,450.3L348.1,449.1L348.6,447.3L349.2,446.0L349.7,444.4L350.3,443.3L350.8,441.9L351.4,440.7L351.9,439.4L352.4,438.0L353.0,436.9L353.5,435.4L354.0,433.9L354.5,432.7L354.9,431.5L355.3,430.4L355.7,429.1L356.1,428.1L356.4,426.9L356.8,425.3L357.2,423.6L357.5,422.8L357.9,421.2L358.3,419.8L358.6,418.2L359.0,416.7L359.3,415.9L359.7,414.9L360.1,413.6L360.4,412.1L360.8,410.6L361.1,409.3L361.4,407.7L361.7,406.1L362.0,404.4L362.3,403.3L362.6,401.8L362.9,400.6L363.2,399.2L363.5,397.6L363.8,396.8L364.1,395.2L364.4,393.9L364.7,392.0L365.0,390.6L365.3,389.3L365.6,387.8L365.9,386.8L366.2,385.8L366.5,384.8L366.7,384.0L367.0,382.7L367.4,380.7L367.9,379.5L368.3,377.8L368.7,376.3L369.1,374.3L369.5,373.2L369.9,372.1L370.3,370.5L370.7,369.6L371.0,369.0L371.4,368.0L371.7,367.8L372.0,366.9L373.4,364.8L374.5,364.8L375.8,363.7L377.0,363.6L377.8,364.3L378.7,365.3L379.5,366.3L380.2,367.0L381.0,367.9L382.0,369.1L382.7,370.2L383.4,371.3L384.3,372.6L385.1,373.8L386.1,374.9L387.0,376.4L388.0,378.1L389.0,379.3L390.1,380.5L391.2,381.6L392.2,382.2L393.3,382.3L394.6,382.1L395.9,381.5L397.1,380.7L398.4,379.6L399.5,379.1L401.1,379.1L402.6,379.4L404.0,379.6L405.4,378.8L406.8,378.6L408.3,378.1L409.5,378.2L410.7,378.1L411.9,378.7L413.3,379.8L414.0,380.4L414.7,380.8L415.4,382.0L416.1,382.8L416.8,384.4L417.7,386.0L418.5,387.3L419.5,388.5L420.1,389.3L420.8,390.0L421.5,391.1L422.2,392.5L423.0,393.7L423.7,395.1L424.5,396.2L425.3,397.4L426.1,398.7L426.9,399.9L427.8,401.2L428.6,402.4L429.5,403.9L430.3,404.8L431.2,406.2L432.0,406.7L432.9,408.2L433.8,409.4L434.7,410.4L435.6,411.3L436.5,412.0L437.4,412.7L438.4,413.3L439.3,414.4L440.2,415.9L441.1,417.1L442.0,418.2L443.0,418.9L444.1,419.7L445.1,420.2L446.2,421.3L447.2,422.1L448.2,423.3L449.3,424.1L450.3,425.3L451.4,426.4L452.4,427.3L453.5,428.2L454.5,428.5L455.5,428.9L456.5,429.7L457.5,430.4L458.5,431.4L459.5,432.6L460.5,433.7L461.5,434.2L462.5,435.3L463.6,436.0L464.7,436.8L465.8,438.0L467.0,439.0L468.0,439.7L469.1,440.5L470.2,441.1L471.3,441.8L472.5,442.9L473.7,443.4L474.9,444.3L476.1,444.7L477.3,445.3L478.5,445.8L479.7,446.0L480.8,447.1L481.9,447.9L483.0,448.8L484.0,449.0L485.4,449.3L486.8,449.7L488.1,450.5L489.3,450.7L490.5,451.4L491.7,451.9L492.9,451.7L494.1,451.8L495.3,451.8L496.5,452.3L497.8,453.2L499.0,453.8L500.2,454.1L501.5,454.8L502.8,454.6L504.0,454.9L505.2,455.9L506.5,456.5L507.8,457.1L509.0,458.0L510.3,458.0L511.5,458.3L512.7,458.3L514.0,458.9L515.2,459.6L516.5,460.4L517.8,460.7L519.0,461.0L520.2,460.8L521.5,461.0L522.9,461.9L524.3,462.2L525.7,462.6L527.1,463.2L528.4,463.1L529.8,463.3L531.2,463.4L532.6,463.3L534.0,464.0L535.4,464.4L536.8,464.6L538.2,464.9L539.6,465.4L540.9,465.8L542.3,466.4L543.7,466.7L545.1,466.8L546.5,467.1L547.8,467.2L549.0,467.3L550.2,467.4L551.4,467.7L552.6,467.6L553.9,468.2L555.4,468.4L557.1,468.5L559.0,469.0L560.0,469.1L561.1,469.6L562.2,469.5L563.4,469.9L564.7,470.1L566.0,470.1L567.3,470.2L568.6,470.6L570.0,470.6L571.4,470.6L572.8,470.6L574.3,471.2L575.7,471.7L577.1,471.8L578.5,472.3L579.9,472.2L581.3,472.1L582.7,471.6L584.0,471.9L585.3,472.3L586.6,472.9L587.9,472.8L589.3,472.8L590.6,472.6L591.9,472.5L593.2,472.6L594.5,473.4L595.8,474.1L597.2,474.3L598.5,474.2L599.8,473.8L601.1,473.7L602.4,473.8L603.7,474.0L605.1,474.0L606.4,474.1L607.7,474.4L609.0,474.8L610.3,475.0L611.6,475.3L613.0,474.7L614.3,474.8L615.6,474.5L617.0,474.5L618.3,474.7L619.7,474.6L621.0,474.6L622.3,474.2L623.7,474.8L625.0,474.7L626.3,474.5L627.6,474.7L628.9,475.1L630.2,475.5L631.5,475.7L632.7,476.2L634.0,476.2L635.4,476.5L636.9,475.9L638.4,475.6L639.9,476.2L641.5,476.2L643.0,476.3L644.6,476.4L646.1,476.4L647.5,476.2L649.0,476.1L650.3,475.9L651.6,475.6L652.8,475.6L653.9,475.5L654.9,475.6L655.8,475.3L656.5,475.1" fill="none" stroke="#000" stroke-width="1.15" stroke-linejoin="round" stroke-linecap="butt"/>
<path d="M317.0,465.0C319.1,464.8 325.7,464.0 329.5,463.5C333.3,463.0 336.9,462.4 340.0,462.0C343.1,461.6 345.6,462.4 348.0,461.0C350.4,459.6 352.6,456.7 354.5,453.8C356.4,450.9 357.6,446.9 359.5,443.8C361.4,440.7 363.9,437.7 365.8,435.0C367.7,432.3 369.6,429.3 371.0,427.5C372.4,425.7 373.3,424.5 374.5,424.0C375.7,423.5 376.6,423.9 378.0,424.5C379.4,425.1 381.3,426.6 383.0,427.5C384.7,428.4 386.8,428.8 388.3,430.0C389.8,431.2 390.6,434.2 392.0,435.0C393.4,435.8 395.3,434.8 397.0,434.5C398.7,434.2 399.9,433.7 402.0,433.0C404.1,432.3 407.0,430.2 409.5,430.5C412.0,430.8 414.3,432.9 417.0,434.5C419.7,436.1 422.9,438.2 425.8,440.0C428.7,441.8 431.8,443.5 434.5,445.0C437.2,446.5 439.1,447.5 442.0,448.8C444.9,450.1 449.3,451.8 452.0,453.0C454.7,454.2 455.8,455.2 458.3,456.3C460.8,457.4 464.5,458.6 467.0,459.5C469.5,460.4 470.8,461.1 473.3,462.0C475.8,462.9 479.0,464.4 482.0,465.0C485.0,465.6 488.4,465.3 491.5,465.5C494.6,465.7 497.2,465.9 500.3,466.3C503.4,466.7 507.2,467.3 510.3,468.0C513.4,468.7 515.7,469.8 519.0,470.5C522.3,471.2 527.2,472.2 530.3,472.5C533.4,472.8 534.5,471.9 537.8,472.0C541.1,472.1 546.7,472.9 550.0,473.3C553.3,473.7 553.6,473.9 557.8,474.3C562.0,474.7 568.0,475.1 575.0,475.5C582.0,475.9 595.8,476.3 600.0,476.5" fill="none" stroke="#000" stroke-width="2.30" stroke-linejoin="round" stroke-linecap="butt" stroke-dasharray="8.4,7.6"/>
<path d="M107.0,1050.4L107.9,1051.6L109.2,1053.5L110.2,1055.0L111.3,1055.5L112.5,1056.0L113.7,1056.4L115.1,1056.2L116.5,1057.0L118.0,1057.4L119.6,1058.1L121.5,1057.8L122.8,1057.2L124.2,1056.7L125.6,1056.5L127.1,1056.3L128.5,1055.9L129.8,1055.4L131.0,1055.1L132.2,1054.6L133.5,1054.2L135.0,1053.5L136.1,1053.1L137.3,1052.7L138.5,1052.5L139.8,1052.3L141.1,1051.3L142.4,1050.8L143.7,1050.7L145.0,1050.2L146.3,1049.5L147.6,1049.1L148.9,1048.8L150.2,1048.7L151.4,1049.0L152.7,1047.9L153.9,1047.5L155.0,1046.6L156.2,1045.9L157.4,1045.1L158.5,1044.2L159.5,1043.1L160.5,1042.1L161.5,1041.4L162.5,1040.0L163.3,1038.9L164.0,1038.3L164.7,1037.4L165.4,1037.0L166.1,1035.7L166.8,1034.3L167.4,1033.1L168.1,1031.9L168.8,1030.9L169.4,1029.0L170.1,1027.6L170.7,1026.4L171.3,1024.8L172.0,1023.3L172.6,1022.2L173.2,1021.1L173.8,1019.8L174.4,1019.0L175.0,1017.9L175.5,1017.1L176.1,1015.7L176.6,1014.4L177.1,1012.8L177.6,1011.4L178.1,1009.7L178.5,1008.8L179.0,1007.4L179.5,1006.7L180.0,1005.9L180.4,1004.0L180.8,1002.6L181.3,1000.8L181.7,999.3L182.1,998.6L182.6,997.4L183.0,996.4L183.4,995.2L183.8,994.2L184.2,992.9L184.6,991.7L185.0,990.3L185.4,988.4L185.8,986.9L186.1,985.9L186.5,984.6L186.8,983.2L187.1,981.6L187.5,980.4L187.8,979.4L188.1,977.6L188.5,976.3L188.8,974.7L189.1,973.5L189.5,971.9L189.8,970.3L190.2,968.4L190.5,966.8L190.8,966.2L191.2,964.7L191.5,963.4L191.8,962.3L192.2,961.2L192.5,960.2L192.9,958.7L193.3,957.5L193.7,956.6L194.1,955.3L194.6,954.4L195.0,953.7L195.5,952.1L196.0,950.2L196.3,949.1L196.5,948.0L196.8,947.2L197.1,945.8L197.4,944.7L197.6,942.8L197.9,941.5L198.2,940.1L198.6,938.7L198.9,937.8L199.2,936.6L199.5,935.2L199.8,933.8L200.1,932.7L200.4,931.1L200.7,929.4L201.0,927.6L201.3,926.7L201.5,924.7L201.8,923.8L202.0,922.2L202.3,920.9L202.5,919.9L202.8,918.2L203.0,917.2L203.2,916.2L203.5,915.3L203.7,914.1L203.9,912.6L204.2,911.0L204.4,910.1L204.6,908.3L204.9,906.9L205.1,905.0L205.4,903.9L205.6,902.8L205.8,901.4L206.1,900.2L206.3,898.9L206.5,897.7L206.7,895.9L207.0,894.4L207.2,892.9L207.4,892.0L207.6,890.5L207.8,889.8L208.1,888.3L208.3,887.9L208.5,886.0L208.7,883.9L209.0,882.4L209.2,880.9L209.4,879.8L209.6,878.7L209.8,877.8L210.1,876.3L210.3,874.6L210.5,873.1L210.7,871.4L210.9,870.6L211.1,869.0L211.3,868.1L211.5,866.7L211.8,865.9L212.0,864.6L212.2,863.0L212.5,861.5L212.7,859.8L212.9,858.3L213.1,856.9L213.3,855.6L213.5,854.3L213.8,852.8L214.0,851.9L214.2,850.6L214.4,849.0L214.6,848.1L214.8,847.0L215.0,845.8L215.3,844.8L215.5,843.6L215.8,842.1L216.0,841.3L216.3,839.6L216.6,838.2L216.8,837.3L217.1,835.4L217.4,834.0L217.7,832.1L217.9,830.9L218.2,829.8L218.5,828.4L218.8,827.5L219.0,826.2L219.3,824.4L219.5,823.0L219.8,821.6L220.0,820.9L220.3,819.7L220.7,818.9L221.0,817.4L221.3,815.7L221.6,813.9L221.8,812.4L222.1,810.9L222.4,810.1L222.7,808.3L223.0,807.4L223.3,805.9L223.6,804.7L223.9,803.9L224.2,802.3L224.5,800.6L224.8,799.6L225.1,798.0L225.4,797.1L225.7,795.2L226.0,793.9L226.3,792.2L226.7,790.6L227.0,789.3L227.3,788.3L227.7,787.4L228.0,786.2L228.4,785.1L228.8,783.9L229.2,782.4L229.5,781.4L229.9,779.4L230.3,778.2L230.6,776.3L231.0,774.8L231.3,773.1L231.6,771.8L231.8,770.8L232.1,769.5L232.4,768.3L232.6,767.2L232.9,766.2L233.1,765.0L233.4,764.1L233.6,762.7L233.9,760.8L234.1,759.0L234.4,757.3L234.7,755.4L235.0,754.3L235.3,752.9L235.5,751.7L235.8,750.9L236.1,749.6L236.3,748.4L236.6,746.8L236.9,745.5L237.2,744.3L237.5,742.5L237.8,741.2L238.1,739.7L238.4,738.7L238.7,737.1L239.0,736.5L239.3,734.8L239.7,733.6L240.0,732.8L240.5,731.0L241.0,729.8L241.5,728.5L242.1,727.3L242.6,726.4L243.2,724.7L243.7,724.2L244.2,722.8L244.8,721.8L245.3,720.4L245.8,718.9L246.3,717.8L246.8,716.8L247.3,715.0L247.7,713.5L248.2,712.0L248.6,710.6L249.0,709.0L249.4,707.3L249.9,706.0L250.3,705.4L250.8,704.3L251.3,703.8L252.1,702.2L253.0,700.9L253.9,699.5L254.8,698.8L255.7,697.5L256.6,696.9L257.5,695.7L258.8,694.8L260.1,694.0L261.4,693.8L262.7,693.4L263.8,692.7L264.5,692.1L265.2,690.8L265.8,688.6L266.4,686.2L266.9,684.5L267.5,682.8L268.0,682.5L269.1,684.1L270.1,686.6L271.3,687.1L271.8,686.6L272.4,685.8L273.0,684.5L273.6,683.3L274.3,681.7L274.9,680.3L275.6,679.4L276.3,678.4L277.1,677.3L278.0,675.8L278.9,674.8L279.8,673.5L280.7,672.7L281.6,671.4L282.5,670.3L283.4,669.4L284.3,668.1L285.2,666.6L286.1,665.1L287.0,664.0L287.9,662.9L288.8,662.5L289.7,661.3L290.6,660.4L291.6,659.3L292.5,658.1L293.4,657.2L294.2,656.3L295.0,655.3L295.9,654.1L296.6,652.4L297.4,650.3L298.1,648.9L298.8,647.6L299.5,647.2L300.2,647.7L301.0,648.4L301.7,650.3L302.4,652.3L303.1,654.3L303.8,655.2L305.2,654.9L306.7,654.3L308.0,654.1L308.6,654.3L309.1,655.0L309.6,656.1L310.1,657.2L310.7,658.6L311.3,660.5L311.6,661.8L312.0,662.6L312.3,663.9L312.7,665.4L313.1,666.4L313.5,667.8L313.9,669.4L314.3,670.7L314.7,672.3L315.1,673.5L315.5,675.0L315.9,676.4L316.3,677.7L316.6,679.3L317.0,680.7L317.3,681.5L317.6,682.5L318.0,683.7L318.3,685.3L318.6,686.5L319.0,687.8L319.3,689.1L319.6,690.9L320.0,692.1L320.3,694.1L320.6,695.1L321.0,696.1L321.3,697.7L321.6,698.7L321.9,700.5L322.2,701.9L322.5,704.0L322.8,705.1L323.1,706.0L323.4,707.1L323.7,708.2L324.0,709.5L324.3,711.2L324.6,712.5L324.9,713.5L325.2,714.6L325.5,715.5L325.8,716.9L326.0,718.2L326.3,719.6L326.6,721.4L326.9,723.0L327.2,723.9L327.5,725.2L327.8,726.6L328.1,728.0L328.4,729.3L328.6,730.4L328.9,731.6L329.2,732.9L329.4,734.7L329.7,736.1L330.0,737.4L330.3,738.6L330.5,739.3L330.8,741.2L331.0,742.5L331.3,744.1L331.6,745.5L331.8,746.1L332.1,748.0L332.4,748.5L332.6,750.4L332.9,751.6L333.1,753.0L333.4,754.7L333.6,756.2L333.8,757.6L334.1,759.2L334.3,761.0L334.5,761.8L334.7,763.0L334.9,764.4L335.1,765.4L335.2,766.8L335.4,768.3L335.6,769.3L335.8,770.5L336.1,771.6L336.3,773.1L336.5,774.4L336.6,775.3L336.8,776.7L337.0,778.3L337.2,779.9L337.3,781.7L337.5,783.0L337.7,784.4L337.9,785.1L338.1,786.6L338.3,788.2L338.5,789.8L338.7,790.5L338.9,792.1L339.1,793.5L339.3,795.0L339.5,796.1L339.8,797.4L340.0,799.5L340.2,800.9L340.4,802.0L340.6,802.9L340.8,804.0L341.0,804.9L341.2,806.6L341.5,808.1L341.7,809.4L341.9,810.6L342.1,812.0L342.4,813.5L342.6,814.5L342.8,816.0L343.1,816.9L343.3,817.9L343.5,819.7L343.7,821.2L344.0,823.3L344.2,824.7L344.4,825.4L344.6,826.6L344.8,827.4L345.0,829.3L345.2,830.7L345.4,832.0L345.6,832.9L345.7,834.5L345.9,835.4L346.1,836.1L346.3,837.4L346.5,838.8L346.6,840.5L346.8,841.8L347.0,843.2L347.1,844.6L347.3,845.8L347.5,847.4L347.6,848.7L347.8,850.6L347.9,851.8L348.1,853.2L348.2,854.5L348.4,855.7L348.5,856.7L348.7,858.0L348.8,859.1L349.0,860.5L349.1,862.1L349.3,863.4L349.4,864.4L349.6,865.9L349.7,867.8L349.8,868.6L349.9,870.3L350.1,871.7L350.2,872.8L350.3,873.9L350.4,875.4L350.6,876.5L350.7,877.8L350.8,879.3L350.9,880.5L351.0,881.9L351.2,883.2L351.3,884.2L351.5,884.8L351.6,886.4L351.8,887.8L352.0,889.1L352.1,890.1L352.3,891.2L352.5,892.1L352.6,892.6L352.8,893.3L353.0,895.0L353.1,896.5L353.3,897.7L353.5,899.9L353.6,901.6L353.8,904.2L353.9,905.1L353.9,906.2L354.0,906.9L354.1,907.9L354.1,909.2L354.2,910.6L354.3,911.8L354.3,913.7L354.4,914.5L354.4,915.7L354.5,917.3L354.6,919.1L354.6,920.0L354.7,921.2L354.7,922.7L354.8,924.7L354.9,926.5L354.9,928.2L355.0,929.8L355.1,931.3L355.1,932.3L355.2,933.6L355.3,934.9L355.3,936.2L355.4,937.6L355.5,938.8L355.6,939.9L355.6,941.6L355.7,943.1L355.8,944.2L355.9,945.8L356.0,946.9L356.1,947.5L356.2,948.5L356.3,949.2L356.5,951.0L356.7,953.0L357.0,955.2L357.2,957.2L357.5,958.2L357.7,959.9L358.0,960.8L358.3,962.1L358.6,962.8L358.9,963.4L359.2,964.7L359.4,965.9L359.7,967.2L360.0,968.3L360.3,969.5L360.6,971.0L360.8,972.6L361.1,974.2L361.3,975.6L361.5,976.8L361.7,978.0L361.9,979.2L362.1,980.7L362.3,982.4L362.5,983.9L362.7,984.8L362.9,986.1L363.1,986.9L363.2,988.0L363.4,989.6L363.6,990.9L363.8,992.3L364.0,994.1L364.2,995.5L364.4,997.0L364.6,998.3L364.8,999.3L365.0,1000.6L365.2,1002.2L365.4,1003.6L365.6,1004.0L365.9,1004.8L366.1,1006.2L366.3,1007.9L366.6,1009.4L366.8,1011.1L367.1,1012.1L367.3,1013.0L367.5,1014.0L367.8,1015.0L368.0,1016.8L368.3,1018.3L368.5,1019.7L368.8,1020.9L369.0,1021.6L369.3,1022.7L369.5,1024.5L369.8,1025.6L370.0,1027.5L370.3,1029.2L370.6,1030.5L370.9,1031.4L371.2,1032.8L371.5,1033.8L371.8,1035.5L372.1,1036.8L372.4,1038.1L372.6,1040.0L372.9,1041.9L373.2,1043.1L373.5,1044.6L373.8,1045.5L374.1,1047.0L374.4,1048.0L374.7,1048.8L375.0,1050.0L375.3,1051.1L375.7,1052.5L376.0,1053.9L376.3,1054.7L376.7,1056.1L377.0,1057.5L377.3,1059.9L377.7,1061.0L378.0,1062.3L378.3,1063.1L378.7,1064.3L379.0,1065.1L379.3,1066.6L379.7,1067.8L380.0,1069.7L380.4,1070.8L380.9,1073.2L381.3,1074.8L381.8,1076.6L382.3,1077.5L382.7,1078.9L383.2,1080.4L383.6,1081.7L384.0,1082.3L384.4,1083.7L384.7,1084.1L385.0,1085.3L386.1,1086.0L386.5,1086.0" fill="none" stroke="#000" stroke-width="3.40" stroke-linejoin="round" stroke-linecap="butt"/>
<path d="M107.0,1055.0C108.3,1056.2 112.0,1060.8 115.0,1062.5C118.0,1064.2 121.2,1065.7 125.0,1065.5C128.8,1065.3 133.3,1062.8 137.5,1061.3C141.7,1059.8 145.8,1058.4 150.0,1056.3C154.2,1054.2 159.2,1051.5 162.5,1048.8C165.8,1046.1 167.5,1043.5 170.0,1040.0C172.5,1036.5 175.2,1032.1 177.5,1027.5C179.8,1022.9 181.7,1017.9 183.8,1012.5C185.9,1007.1 187.9,1001.2 190.0,995.0C192.1,988.8 194.4,980.8 196.3,975.0C198.2,969.2 199.9,964.2 201.3,960.0C202.8,955.8 203.6,955.9 205.0,949.8C206.4,943.7 208.1,932.0 210.0,923.5C211.9,915.0 214.4,906.4 216.3,898.5C218.2,890.6 219.6,883.1 221.3,876.0C223.0,868.9 224.6,862.7 226.3,856.0C228.0,849.3 229.6,841.4 231.3,836.0C233.0,830.6 234.4,827.2 236.3,823.5C238.2,819.8 240.8,816.4 242.5,813.5C244.2,810.6 244.2,809.2 246.3,806.0C248.4,802.8 252.1,797.8 255.0,794.0C257.9,790.2 260.9,786.4 264.0,783.0C267.1,779.6 270.3,776.8 273.8,773.8C277.3,770.8 281.1,768.3 285.0,765.0C288.9,761.7 294.2,755.7 297.5,753.8C300.8,751.9 302.3,752.5 305.0,753.8C307.7,755.0 311.5,757.9 313.8,761.3C316.1,764.7 317.1,768.5 318.8,774.0C320.5,779.5 322.1,786.9 323.8,794.0C325.5,801.1 327.1,809.0 328.8,816.5C330.5,824.0 332.1,831.5 333.8,839.0C335.5,846.5 337.4,854.0 338.8,861.5C340.2,869.0 341.2,876.9 342.5,884.0C343.8,891.1 345.5,898.4 346.3,904.0C347.1,909.6 346.2,910.1 347.5,917.8C348.8,925.5 352.1,940.5 353.8,950.0C355.5,959.5 356.2,966.7 357.5,975.0C358.8,983.3 360.1,992.1 361.3,1000.0C362.6,1007.9 363.6,1015.0 365.0,1022.5C366.4,1030.0 368.3,1038.3 370.0,1045.0C371.7,1051.7 372.9,1056.2 375.0,1062.5C377.1,1068.8 380.7,1078.5 382.5,1082.5C384.3,1086.5 385.4,1085.8 386.0,1086.5" fill="none" stroke="#000" stroke-width="2.00" stroke-linejoin="round" stroke-linecap="butt" stroke-dasharray="10,11"/>
<path d="M107.0,1072.5C107.9,1072.9 110.3,1074.4 112.5,1075.0C114.7,1075.6 116.7,1076.4 120.0,1076.3C123.3,1076.2 128.3,1075.1 132.5,1074.3C136.7,1073.5 140.8,1072.4 145.0,1071.3C149.2,1070.2 153.8,1069.0 157.5,1067.5C161.2,1066.0 164.6,1064.6 167.5,1062.5C170.4,1060.4 172.5,1057.9 175.0,1055.0C177.5,1052.1 180.2,1049.2 182.5,1045.0C184.8,1040.8 186.7,1035.4 188.8,1030.0C190.9,1024.6 193.1,1017.9 195.0,1012.5C196.9,1007.1 198.3,1002.9 200.0,997.5C201.7,992.1 203.3,985.8 205.0,980.0C206.7,974.2 208.7,967.5 210.0,962.5C211.3,957.5 211.6,955.9 212.8,949.8C214.1,943.7 215.5,933.7 217.5,926.0C219.5,918.3 222.5,910.6 225.0,903.5C227.5,896.4 230.0,889.8 232.5,883.5C235.0,877.2 237.5,870.2 240.0,866.0C242.5,861.8 245.0,861.4 247.5,858.5C250.0,855.6 252.7,851.4 255.0,848.5C257.3,845.6 259.2,842.2 261.3,841.0C263.4,839.8 265.2,842.9 267.5,841.0C269.8,839.1 272.3,831.5 275.0,829.8C277.7,828.1 281.1,832.5 283.8,831.0C286.5,829.5 288.7,823.6 291.3,821.0C293.9,818.4 296.6,815.9 299.3,815.5C302.0,815.1 305.3,816.3 307.5,818.5C309.7,820.7 310.8,825.1 312.5,828.5C314.2,831.9 315.6,834.3 317.5,839.0C319.4,843.7 321.7,850.2 323.8,856.5C325.9,862.8 328.1,870.2 330.0,876.5C331.9,882.8 333.5,888.6 335.0,894.0C336.5,899.4 337.8,905.0 338.8,909.0C339.9,913.0 340.1,911.0 341.3,917.8C342.6,924.6 344.9,940.5 346.3,950.0C347.8,959.5 348.8,966.7 350.0,975.0C351.2,983.3 352.6,991.7 353.8,1000.0C355.1,1008.3 356.1,1016.7 357.5,1025.0C358.9,1033.3 360.4,1042.5 362.5,1050.0C364.6,1057.5 367.3,1064.6 370.0,1070.0C372.7,1075.4 376.1,1079.8 378.8,1082.5C381.5,1085.2 384.8,1085.8 386.0,1086.5" fill="none" stroke="#000" stroke-width="2.00" stroke-linejoin="round" stroke-linecap="butt" stroke-dasharray="6.3,5.9"/>
<path d="M107.0,1071.3L107.8,1071.7L109.0,1072.5L110.4,1073.3L111.9,1074.0L113.5,1074.4L115.0,1074.3L116.3,1074.7L117.6,1074.8L119.0,1075.3L120.4,1075.5L121.9,1075.5L123.4,1075.2L125.0,1075.0L126.3,1074.6L127.6,1074.5L129.0,1074.1L130.4,1074.1L131.8,1073.4L133.2,1073.2L134.7,1072.9L136.1,1072.4L137.5,1072.4L138.9,1072.1L140.3,1072.2L141.7,1071.9L143.1,1071.7L144.4,1071.4L145.8,1071.1L147.2,1070.7L148.6,1070.1L150.0,1069.9L151.3,1069.6L152.5,1069.0L153.8,1068.5L155.1,1068.3L156.4,1068.5L157.7,1068.1L158.9,1068.3L160.2,1067.6L161.4,1067.1L162.5,1066.1L163.9,1065.7L165.2,1065.0L166.5,1064.8L167.8,1064.4L169.0,1063.4L170.2,1062.9L171.4,1061.9L172.5,1061.3L173.7,1060.9L174.8,1060.1L175.9,1059.3L176.9,1058.1L177.9,1057.4L179.0,1056.6L180.0,1055.4L180.9,1054.4L181.9,1053.5L182.8,1052.2L183.8,1051.3L184.7,1050.5L185.6,1049.6L186.6,1048.1L187.5,1047.0L188.2,1046.0L189.0,1044.7L189.7,1043.2L190.5,1041.9L191.2,1040.2L192.0,1039.1L192.7,1038.5L193.5,1036.9L194.3,1036.3L195.0,1034.9L195.6,1033.4L196.3,1032.4L196.9,1031.3L197.5,1030.2L198.2,1029.2L198.8,1028.0L199.5,1027.0L200.1,1025.3L200.7,1024.0L201.3,1022.6L201.9,1021.0L202.5,1019.9L203.0,1018.4L203.5,1017.5L203.9,1016.6L204.4,1015.6L204.8,1014.0L205.3,1012.8L205.7,1011.3L206.2,1010.1L206.6,1009.1L207.0,1008.0L207.5,1006.8L207.9,1005.1L208.4,1003.8L208.8,1002.3L209.3,1001.0L209.8,999.9L210.3,998.7L210.8,997.8L211.3,996.4L211.8,995.5L212.3,994.2L212.8,992.8L213.4,991.4L213.9,989.9L214.4,988.6L215.0,987.6L215.6,986.2L216.2,985.7L216.8,983.6L217.4,982.3L218.0,981.3L218.7,979.8L219.3,978.4L220.0,977.1L220.6,975.9L221.2,974.7L221.9,973.8L222.5,972.5L223.2,971.3L223.9,969.9L224.5,968.4L225.2,966.9L225.9,965.9L226.6,965.0L227.3,964.2L228.0,963.5L228.6,962.2L229.3,961.1L230.0,960.1L230.8,958.7L231.7,957.4L232.5,956.0L233.4,954.8L234.2,953.7L235.1,953.0L235.9,952.1L236.7,950.7L237.5,949.3L238.5,948.0L239.4,946.9L240.3,945.8L241.2,945.0L242.0,944.1L242.9,943.2L243.8,942.6L244.6,941.6L245.3,940.6L246.1,939.2L246.8,938.3L247.6,936.9L248.4,935.7L249.2,934.4L250.0,933.3L250.9,932.3L251.8,931.4L252.7,930.7L253.7,929.7L254.6,928.4L255.6,927.5L256.6,926.6L257.5,925.8L259.0,925.6L260.4,925.7L261.8,925.7L263.3,926.0L265.0,925.7L266.1,925.8L267.4,925.2L268.6,924.7L269.9,924.3L271.2,923.7L272.5,922.8L273.8,922.2L275.0,921.4L276.2,920.7L277.3,918.9L278.4,917.8L279.6,916.7L280.6,915.9L281.7,914.8L282.8,914.2L283.8,913.2L285.1,913.0L286.3,912.6L287.4,912.5L288.6,912.2L289.9,911.9L291.3,911.5L292.4,910.6L293.6,910.2L294.9,909.6L296.2,909.2L297.6,908.4L298.9,907.7L300.2,907.8L301.4,907.0L302.5,906.8L304.3,906.5L305.8,906.0L307.3,906.6L308.6,906.8L310.0,907.7L310.8,908.4L311.6,909.7L312.4,911.0L313.2,912.4L313.9,913.8L314.7,915.4L315.5,916.8L316.3,917.6L317.1,918.6L317.9,919.5L318.8,920.3L319.7,921.6L320.6,923.2L321.4,924.0L322.3,925.2L323.1,925.9L323.8,926.9L324.5,928.5L325.1,930.4L325.7,932.1L326.3,933.1L326.9,933.7L327.4,934.6L327.9,935.7L328.4,937.0L328.8,938.6L329.2,940.0L329.4,941.2L329.6,942.3L329.7,943.4L329.9,944.5L330.1,945.5L330.4,946.4L330.8,947.8L331.3,949.5L331.7,950.8L332.1,951.8L332.6,953.0L333.1,954.7L333.6,955.9L334.2,957.3L334.7,958.5L335.3,959.3L335.9,960.6L336.6,961.8L337.2,963.1L337.8,964.8L338.4,966.4L338.9,967.6L339.5,968.7L340.0,969.9L340.4,971.0L340.9,972.6L341.3,973.6L341.8,975.3L342.2,976.6L342.6,978.0L343.1,979.4L343.5,980.5L343.9,981.2L344.3,982.0L344.7,983.0L345.1,984.5L345.5,986.0L345.9,987.5L346.3,988.8L346.7,990.0L347.1,991.0L347.5,992.0L347.9,993.5L348.3,994.7L348.7,996.4L349.1,997.7L349.4,998.9L349.8,1000.4L350.2,1002.1L350.5,1003.3L350.9,1004.8L351.3,1006.0L351.6,1007.4L352.0,1008.8L352.3,1010.0L352.7,1011.3L353.1,1012.6L353.4,1014.1L353.8,1015.2L354.2,1016.1L354.6,1017.4L355.0,1018.3L355.3,1019.5L355.7,1020.9L356.1,1022.3L356.4,1023.4L356.8,1024.8L357.2,1025.6L357.6,1026.9L358.0,1028.4L358.4,1029.7L358.8,1031.2L359.2,1032.6L359.6,1034.0L360.0,1035.1L360.4,1036.5L360.9,1037.8L361.3,1039.0L361.8,1040.1L362.2,1041.1L362.7,1042.5L363.2,1043.7L363.7,1044.9L364.1,1046.3L364.6,1047.4L365.1,1049.1L365.6,1050.1L366.1,1051.9L366.6,1053.0L367.0,1054.2L367.5,1055.2L368.0,1056.6L368.6,1057.9L369.1,1059.1L369.6,1060.3L370.2,1061.8L370.7,1062.8L371.2,1064.4L371.8,1065.5L372.3,1066.6L372.9,1068.0L373.4,1069.3L373.9,1070.5L374.5,1072.0L375.0,1072.8L375.8,1074.3L376.6,1075.5L377.4,1076.3L378.2,1077.9L379.0,1079.0L379.8,1080.5L380.5,1081.3L381.3,1082.3L381.9,1083.2L382.5,1083.7L384.1,1085.6L385.2,1086.5L386.0,1086.6" fill="none" stroke="#000" stroke-width="1.15" stroke-linejoin="round" stroke-linecap="butt"/>
<path d="M107.0,1078.3C107.8,1078.8 110.2,1080.1 112.0,1081.0C113.8,1081.9 114.9,1083.5 117.6,1083.8C120.3,1084.1 123.9,1083.8 128.0,1083.0C132.1,1082.2 137.1,1080.3 142.0,1079.0C146.9,1077.7 152.0,1076.5 157.5,1075.0C163.0,1073.5 170.0,1072.1 175.0,1070.0C180.0,1067.9 183.3,1065.4 187.5,1062.5C191.7,1059.6 195.8,1056.7 200.0,1052.5C204.2,1048.3 208.3,1042.1 212.5,1037.5C216.7,1032.9 220.8,1029.2 225.0,1025.0C229.2,1020.8 233.9,1015.5 237.5,1012.5C241.1,1009.5 242.6,1008.6 246.3,1007.0C250.1,1005.4 255.2,1004.2 260.0,1003.0C264.8,1001.8 270.0,1000.6 275.0,999.5C280.0,998.4 285.4,997.0 290.0,996.3C294.6,995.5 298.3,994.4 302.5,995.0C306.7,995.6 310.8,997.5 315.0,1000.0C319.2,1002.5 323.3,1005.8 327.5,1010.0C331.7,1014.2 336.2,1019.6 340.0,1025.0C343.8,1030.4 346.7,1036.7 350.0,1042.5C353.3,1048.3 356.7,1054.6 360.0,1060.0C363.3,1065.4 366.7,1071.0 370.0,1075.0C373.3,1079.0 377.3,1081.9 380.0,1083.8C382.7,1085.7 385.0,1086.0 386.0,1086.5" fill="none" stroke="#000" stroke-width="2.30" stroke-linejoin="round" stroke-linecap="butt" stroke-dasharray="13,5,2.2,5"/>
<path d="M107.0,1081.0C108.0,1081.7 110.0,1084.5 113.0,1085.0C116.0,1085.5 117.6,1084.4 125.0,1083.8C132.4,1083.2 147.9,1082.1 157.5,1081.3C167.1,1080.5 175.4,1080.3 182.5,1078.8C189.6,1077.3 195.0,1074.6 200.0,1072.5C205.0,1070.4 208.3,1068.4 212.5,1066.3C216.7,1064.2 220.8,1061.9 225.0,1060.0C229.2,1058.1 232.5,1056.5 237.5,1055.0C242.5,1053.5 248.8,1051.8 255.0,1050.8C261.2,1049.8 269.2,1049.8 275.0,1048.8C280.8,1047.8 285.4,1045.7 290.0,1045.0C294.6,1044.3 298.3,1044.3 302.5,1044.5C306.7,1044.7 310.8,1045.2 315.0,1046.3C319.2,1047.4 323.3,1049.2 327.5,1051.3C331.7,1053.4 335.8,1056.1 340.0,1058.8C344.2,1061.5 348.3,1064.4 352.5,1067.5C356.7,1070.6 360.8,1074.6 365.0,1077.5C369.2,1080.4 374.3,1083.5 377.5,1085.0C380.7,1086.5 382.9,1086.3 384.0,1086.6" fill="none" stroke="#000" stroke-width="2.20" stroke-linejoin="round" stroke-linecap="butt" stroke-dasharray="12,4,2.2,4"/>
<path d="M107.0,1083.5C108.3,1083.9 110.3,1085.5 115.0,1086.0C119.7,1086.5 127.9,1086.3 135.0,1086.3C142.1,1086.3 148.8,1086.4 157.5,1086.0C166.2,1085.6 179.6,1084.8 187.5,1083.8C195.4,1082.8 198.8,1081.2 205.0,1080.0C211.2,1078.8 218.3,1077.3 225.0,1076.3C231.7,1075.3 237.5,1074.4 245.0,1073.8C252.5,1073.2 262.5,1073.1 270.0,1072.5C277.5,1071.9 284.2,1070.5 290.0,1070.0C295.8,1069.5 300.0,1069.4 305.0,1069.5C310.0,1069.6 315.0,1070.2 320.0,1070.8C325.0,1071.4 330.8,1072.4 335.0,1073.3C339.2,1074.2 341.7,1074.8 345.0,1076.0C348.3,1077.2 351.7,1079.0 355.0,1080.5C358.3,1082.0 362.2,1084.0 365.0,1085.0C367.8,1086.0 370.8,1086.3 372.0,1086.6" fill="none" stroke="#000" stroke-width="2.10" stroke-linejoin="round" stroke-linecap="butt" stroke-dasharray="9,6,2,5,2,6"/>
<path d="M345.0,1078.1L345.1,1076.8L345.3,1075.7L345.5,1074.6L345.7,1073.9L345.9,1073.1L346.2,1072.0L346.5,1070.8L346.7,1069.3L347.0,1067.9L347.3,1066.2L347.6,1064.6L347.9,1062.4L348.2,1061.0L348.5,1059.0L348.8,1057.4L349.0,1056.1L349.3,1054.5L349.5,1054.0L349.8,1052.5L350.0,1051.4L350.3,1050.2L350.6,1048.9L350.8,1047.3L351.1,1046.3L351.4,1044.7L351.6,1043.1L351.9,1041.7L352.2,1040.9L352.5,1038.9L352.7,1037.5L353.0,1036.0L353.3,1035.2L353.5,1034.1L353.8,1033.3L354.1,1031.9L354.3,1030.5L354.6,1029.9L354.9,1027.8L355.1,1026.8L355.4,1024.9L355.6,1023.7L355.9,1021.9L356.2,1020.6L356.4,1018.7L356.7,1017.2L357.0,1015.7L357.2,1014.6L357.5,1013.4L357.7,1012.2L358.0,1011.3L358.3,1010.3L358.5,1009.5L358.8,1007.3L359.1,1006.0L359.3,1004.4L359.6,1003.1L359.9,1001.9L360.1,1000.7L360.4,999.3L360.7,997.6L361.0,996.3L361.2,995.0L361.5,993.8L361.8,992.1L362.1,990.9L362.3,989.4L362.6,988.5L362.8,987.5L363.1,986.8L363.3,985.1L363.6,983.5L363.8,982.1L364.1,980.1L364.4,979.2L364.7,977.7L365.0,976.6L365.3,974.9L365.6,973.4L365.9,971.9L366.1,970.5L366.4,969.6L366.7,968.7L366.9,967.3L367.2,966.0L367.5,964.7L367.8,962.7L368.2,961.7L368.6,960.7L368.9,959.4L369.3,958.6L369.7,958.0L370.0,957.0L370.4,955.8L370.7,954.1L371.0,951.7L371.3,949.8L371.4,948.3L371.6,947.6L371.7,946.7L371.8,945.6L371.9,944.5L372.0,943.1L372.1,941.4L372.2,940.1L372.3,939.1L372.4,938.0L372.5,936.2L372.6,935.0L372.6,933.6L372.7,932.0L372.8,930.4L372.9,929.3L373.0,928.1L373.1,926.4L373.2,924.6L373.3,922.9L373.4,921.6L373.6,920.2L373.7,918.7L373.8,917.5L373.9,916.3L374.1,915.5L374.2,913.8L374.3,912.9L374.5,911.4L374.6,910.1L374.8,908.6L374.9,907.2L375.1,905.8L375.3,904.7L375.4,903.6L375.6,902.4L375.7,901.4L375.9,900.0L376.1,898.4L376.2,897.4L376.4,895.8L376.5,894.2L376.7,892.9L376.9,891.3L377.0,889.6L377.2,888.1L377.3,887.2L377.5,886.4L377.7,886.2L377.8,884.2L378.0,882.8L378.1,881.1L378.3,879.4L378.4,877.9L378.6,877.4L378.7,875.9L378.9,875.2L379.0,873.5L379.2,872.1L379.3,871.3L379.5,869.9L379.6,868.8L379.8,867.8L379.9,866.0L380.1,864.4L380.2,863.1L380.4,861.8L380.5,860.2L380.7,858.7L380.8,857.6L381.0,856.5L381.1,855.2L381.3,854.6L381.5,852.9L381.6,851.9L381.8,850.4L382.0,849.5L382.1,847.8L382.3,845.9L382.5,843.9L382.6,842.9L382.8,841.7L383.0,840.7L383.1,839.3L383.3,838.1L383.4,836.5L383.6,835.4L383.8,834.0L383.9,832.7L384.1,831.5L384.2,830.3L384.4,829.2L384.6,827.6L384.7,826.3L384.9,825.0L385.0,824.0L385.2,822.4L385.3,821.3L385.5,820.3L385.7,818.7L385.8,817.3L386.0,816.2L386.1,815.0L386.3,814.3L386.4,812.8L386.6,810.8L386.8,809.4L386.9,807.3L387.1,806.3L387.2,805.4L387.4,805.0L387.5,804.0L387.7,802.1L387.8,800.7L388.0,799.2L388.2,797.8L388.3,796.2L388.5,794.7L388.7,793.2L388.8,791.8L389.0,790.7L389.2,789.3L389.3,788.4L389.5,787.4L389.7,786.6L389.9,785.2L390.0,783.6L390.2,782.0L390.4,780.2L390.6,779.5L390.8,778.1L390.9,777.7L391.1,775.7L391.3,774.0L391.4,772.3L391.6,770.9L391.7,769.6L391.9,768.9L392.0,767.5L392.2,766.7L392.3,764.8L392.5,763.9L392.6,762.0L392.7,760.7L392.9,759.3L393.0,758.0L393.2,756.6L393.3,755.4L393.5,754.1L393.7,753.0L393.8,752.3L394.0,751.0L394.1,750.2L394.3,748.5L394.5,746.9L394.6,745.5L394.8,744.0L395.0,742.4L395.2,741.4L395.4,740.0L395.5,738.9L395.7,738.1L395.9,736.4L396.1,734.9L396.3,734.1L396.5,732.4L396.7,731.1L396.9,729.5L397.1,728.1L397.3,726.0L397.5,724.9L397.7,723.7L397.9,722.9L398.1,721.6L398.4,720.2L398.6,718.9L398.8,717.4L399.0,716.0L399.2,715.0L399.4,713.4L399.6,712.2L399.8,710.6L400.0,709.0L400.2,707.3L400.5,706.5L400.7,705.8L401.0,704.5L401.2,703.7L401.4,702.0L401.7,700.6L401.9,699.3L402.1,697.5L402.4,696.2L402.6,694.6L402.9,693.6L403.1,692.4L403.3,692.3L403.6,691.6L403.8,689.6L404.0,687.7L404.3,685.7L404.5,684.2L404.8,683.3L405.0,682.0L405.3,680.6L405.7,679.3L406.0,678.3L406.3,676.5L406.7,675.4L407.0,673.4L407.3,671.4L407.7,670.5L408.0,669.3L408.3,668.5L408.7,666.9L409.0,666.1L409.3,664.9L409.7,664.2L410.0,663.3L410.5,661.1L411.0,659.5L411.5,657.7L412.0,655.9L412.5,654.8L413.0,653.2L413.5,652.2L414.0,651.2L414.5,650.3L415.0,649.8L415.8,648.4L416.6,646.8L417.4,645.5L418.2,644.2L419.1,643.8L420.0,642.7L421.2,642.0L422.4,641.2L423.7,640.7L425.0,640.8L426.3,641.1L427.3,641.2L428.4,641.9L429.4,642.8L430.4,644.0L431.5,645.3L432.5,647.0L433.1,648.1L433.6,648.9L434.2,649.7L434.8,650.3L435.4,652.2L435.9,653.2L436.5,655.0L437.1,656.4L437.7,657.6L438.2,658.7L438.8,659.8L439.2,660.8L439.6,661.7L440.0,663.1L440.4,663.9L440.7,665.0L441.1,666.2L441.5,667.2L441.9,668.5L442.3,670.3L442.7,672.0L443.1,673.7L443.4,674.9L443.8,676.0L444.2,678.2L444.6,679.5L445.0,681.0L445.4,682.3L445.7,683.1L446.1,683.9L446.5,684.6L446.8,685.4L447.2,687.1L447.6,688.5L448.0,689.7L448.3,691.7L448.7,692.5L449.1,694.4L449.5,695.5L449.8,696.5L450.2,698.1L450.6,699.9L450.9,700.7L451.3,702.3L451.7,703.9L452.0,704.8L452.4,706.3L452.8,707.1L453.1,708.6L453.5,710.0L453.9,711.5L454.2,712.8L454.6,714.4L454.9,715.1L455.3,716.8L455.7,717.8L456.0,719.0L456.4,720.5L456.8,721.9L457.1,723.2L457.5,724.6L457.9,726.6L458.2,727.8L458.6,729.0L459.0,731.0L459.4,732.3L459.8,733.4L460.2,734.3L460.5,735.7L460.9,736.5L461.3,737.7L461.7,738.9L462.0,739.8L462.4,741.9L462.8,743.1L463.1,744.7L463.5,745.8L463.8,747.5L464.2,748.3L464.6,750.2L464.9,751.3L465.3,753.3L465.7,754.9L466.0,756.4L466.4,757.7L466.7,759.6L467.0,761.1L467.4,762.2L467.7,763.3L468.0,763.8L468.3,765.1L468.5,766.3L468.8,767.3L469.4,769.1L469.8,770.0L470.2,770.7L470.6,771.5L471.3,773.7L471.6,774.9L471.9,776.4L472.2,777.5L472.6,778.7L473.0,779.4L473.3,780.9L473.8,781.7L474.2,782.9L474.6,784.0L475.0,785.6L475.4,787.0L475.9,788.1L476.3,789.6L476.7,791.3L477.1,792.5L477.5,794.4L477.9,795.5L478.2,796.5L478.6,797.3L479.0,798.5L479.4,800.1L479.8,801.9L480.2,803.4L480.5,805.0L480.9,806.8L481.3,807.8L481.7,809.2L482.0,810.5L482.4,811.5L482.8,812.9L483.1,814.2L483.5,815.1L483.8,816.9L484.2,817.8L484.5,819.2L484.9,820.7L485.2,822.1L485.6,823.5L485.9,824.8L486.2,826.5L486.5,827.8L486.9,828.8L487.2,830.1L487.5,831.1L487.8,832.5L488.1,834.1L488.5,835.4L488.8,836.8L489.1,837.8L489.5,838.7L489.8,839.6L490.2,840.9L490.5,842.8L490.8,844.1L491.2,845.8L491.5,846.7L491.9,847.5L492.2,848.8L492.5,850.3L492.9,852.1L493.2,853.3L493.5,855.1L493.8,857.1L494.0,857.7L494.2,858.7L494.3,860.1L494.5,861.1L494.7,862.5L494.8,863.3L495.0,865.2L495.2,866.7L495.3,868.0L495.5,869.3L495.6,871.0L495.8,872.1L495.9,874.2L496.1,875.6L496.3,876.9L496.4,878.8L496.6,880.0L496.7,881.2L496.9,882.0L497.1,883.3L497.2,884.5L497.4,885.7L497.6,887.0L497.7,888.6L497.9,890.0L498.2,892.2L498.5,893.9L498.8,895.2L499.1,896.9L499.4,898.0L499.7,898.9L500.0,899.7L500.3,901.0L500.7,902.1L501.0,903.5L501.4,904.8L501.8,906.2L502.2,907.6L502.6,908.5L503.0,909.4L503.4,910.7L503.8,912.1L504.2,913.7L504.6,914.8L505.1,915.9L505.5,917.3L506.0,918.2L506.4,919.9L506.9,921.2L507.4,922.9L507.9,924.5L508.4,925.7L508.9,926.9L509.4,928.0L509.9,929.0L510.4,930.8L510.9,932.0L511.4,932.7L511.9,934.0L512.4,934.9L512.9,935.9L513.4,936.9L513.9,938.4L514.4,939.3L514.9,941.2L515.4,941.9L516.0,943.2L516.5,944.3L517.0,945.5L517.6,946.8L518.1,948.5L518.7,949.5L519.2,951.2L519.8,952.4L520.3,953.7L520.8,954.6L521.4,955.5L521.9,956.5L522.4,958.0L523.0,959.5L523.5,961.0L524.0,962.0L524.6,963.5L525.1,964.9L525.7,966.5L526.3,967.6L526.8,968.6L527.4,970.2L527.9,971.2L528.5,973.0L529.0,973.9L529.6,975.2L530.2,975.9L530.7,977.5L531.3,978.7L531.9,980.3L532.5,981.9L533.1,982.9L533.8,984.7L534.4,985.2L535.0,986.2L535.6,986.8L536.2,988.1L536.8,989.9L537.4,990.8L538.0,992.9L538.6,993.7L539.3,994.6L539.9,995.4L540.5,996.3L541.1,997.8L541.7,999.0L542.3,1000.7L542.9,1001.9L543.5,1002.7L544.1,1003.9L544.7,1005.3L545.3,1006.8L545.9,1008.3L546.5,1009.8L547.1,1010.6L547.6,1012.0L548.2,1013.1L548.8,1014.6L549.5,1015.7L550.1,1017.4L550.7,1018.4L551.3,1018.9L552.0,1020.1L552.6,1020.4L553.4,1021.9L554.2,1023.6L555.0,1025.3L555.8,1026.5L556.7,1027.8L557.5,1028.7L558.4,1029.4L559.2,1030.6L560.1,1031.4L560.9,1032.6L561.8,1033.7L562.7,1034.5L563.5,1035.2L564.4,1035.7L565.2,1037.0L566.2,1038.4L567.1,1039.8L568.1,1040.9L569.1,1041.6L570.0,1042.7L571.0,1043.1L571.9,1044.4L572.9,1045.3L573.9,1046.3L574.8,1047.7L575.8,1048.0L576.7,1049.0L577.7,1049.6L578.7,1050.5L579.8,1051.7L580.8,1052.2L581.9,1053.3L582.9,1054.3L584.0,1054.9L585.0,1056.2L586.0,1056.4L587.1,1057.0L588.1,1057.3L589.2,1057.9L590.2,1058.4L591.3,1059.1L592.5,1059.6L593.6,1060.6L594.7,1061.9L595.9,1062.7L597.0,1063.4L598.2,1064.4L599.3,1065.2L600.4,1065.9L601.6,1066.3L602.7,1066.7L604.0,1067.3L605.2,1067.5L606.4,1068.4L607.7,1068.8L609.0,1069.2L610.2,1069.7L611.5,1069.7L612.7,1070.3L614.0,1070.9L615.2,1071.9L616.4,1072.7L617.6,1072.7L618.8,1073.3L620.0,1073.4L621.2,1073.8L622.5,1074.5L623.7,1074.9L625.0,1075.7L626.3,1076.1L627.7,1076.9L628.9,1077.2L630.1,1077.7L631.3,1077.8L632.6,1078.5L633.9,1078.8L635.2,1079.2L636.5,1079.3L637.8,1079.5L639.2,1080.1L640.6,1079.9L642.0,1080.5L643.4,1081.1L644.7,1080.7L646.1,1080.9L647.6,1081.2L649.1,1081.0L650.7,1082.0L652.2,1082.2L653.8,1082.7L655.3,1082.7L656.7,1082.2L658.1,1082.1L659.4,1082.1L660.5,1082.4L661.4,1082.4L662.2,1082.6" fill="none" stroke="#000" stroke-width="3.40" stroke-linejoin="round" stroke-linecap="butt"/>
<path d="M341.3,1080.0C342.1,1077.9 344.6,1072.9 346.3,1067.5C348.0,1062.1 349.6,1054.6 351.3,1047.5C353.0,1040.4 354.6,1032.6 356.3,1025.0C358.0,1017.4 359.6,1010.0 361.3,1002.0C363.0,994.0 364.6,984.3 366.3,977.0C368.0,969.7 370.1,963.3 371.5,958.0C372.9,952.7 373.5,951.7 374.5,945.0C375.5,938.3 376.2,928.8 377.5,917.8C378.8,906.8 381.0,890.5 382.5,879.0C384.0,867.5 385.1,859.0 386.3,849.0C387.6,839.0 388.8,828.2 390.0,819.0C391.2,809.8 392.8,800.2 393.8,794.0C394.9,787.8 395.7,784.9 396.3,781.5C396.9,778.1 396.7,779.5 397.5,773.8C398.3,768.1 399.8,755.6 401.3,747.5C402.8,739.4 404.2,731.2 406.3,725.0C408.4,718.8 411.5,713.5 413.8,710.0C416.1,706.5 418.3,706.1 420.0,703.8C421.7,701.5 422.6,696.5 423.8,696.3C425.1,696.1 425.6,700.0 427.5,702.5C429.4,705.0 432.5,709.0 435.0,711.3C437.5,713.6 440.6,713.2 442.5,716.3C444.4,719.4 444.8,724.4 446.3,730.0C447.8,735.6 449.6,743.3 451.3,750.0C453.0,756.7 455.1,766.0 456.3,770.0C457.6,774.0 457.4,770.4 458.8,774.0C460.2,777.6 462.9,785.2 465.0,791.5C467.1,797.8 469.2,804.4 471.3,811.5C473.4,818.6 475.4,826.5 477.5,834.0C479.6,841.5 481.7,849.0 483.8,856.5C485.9,864.0 488.2,873.4 490.0,879.0C491.8,884.6 493.5,885.0 494.8,890.0C496.1,895.0 496.3,902.0 497.9,908.8C499.4,915.6 501.8,923.4 504.1,930.7C506.5,938.0 509.1,945.3 512.0,952.6C514.9,959.9 518.3,967.2 521.4,974.5C524.5,981.8 527.3,989.6 530.7,996.4C534.1,1003.2 537.8,1009.2 541.7,1015.2C545.6,1021.2 550.3,1027.2 554.2,1032.4C558.1,1037.6 561.3,1042.1 565.2,1046.5C569.1,1050.9 573.5,1055.5 577.7,1059.0C581.9,1062.5 586.0,1065.4 590.2,1067.7C594.4,1070.0 597.5,1071.3 602.7,1073.0C607.9,1074.7 614.7,1076.1 621.5,1077.7C628.3,1079.3 637.1,1081.2 643.4,1082.4C649.6,1083.6 656.4,1084.2 659.0,1084.6" fill="none" stroke="#000" stroke-width="2.00" stroke-linejoin="round" stroke-linecap="butt" stroke-dasharray="10,11"/>
<path d="M360.0,1085.5C360.8,1084.6 362.9,1084.2 365.0,1080.0C367.1,1075.8 370.6,1067.1 372.5,1060.0C374.4,1052.9 375.2,1045.4 376.3,1037.5C377.4,1029.6 378.0,1020.8 378.8,1012.5C379.6,1004.2 380.5,995.0 381.3,987.5C382.1,980.0 383.0,973.8 383.8,967.5C384.6,961.2 384.9,958.3 386.3,950.0C387.8,941.7 390.6,927.1 392.5,917.8C394.4,908.5 395.8,900.9 397.5,894.0C399.2,887.1 400.4,881.5 402.5,876.5C404.6,871.5 407.3,867.3 410.0,864.0C412.7,860.7 415.7,858.2 418.8,856.5C421.9,854.8 425.7,853.2 428.8,854.0C431.9,854.8 434.8,858.6 437.5,861.5C440.2,864.4 442.5,867.8 445.0,871.5C447.5,875.2 450.7,880.9 452.5,884.0C454.3,887.1 453.8,885.9 455.6,890.0C457.4,894.1 460.6,902.5 463.5,908.8C466.4,915.0 469.8,921.2 472.9,927.5C476.0,933.8 479.1,939.5 482.2,946.3C485.3,953.1 488.7,961.4 491.6,968.2C494.5,975.0 496.9,981.8 499.5,987.0C502.1,992.2 504.2,994.8 507.3,999.5C510.4,1004.2 514.3,1010.2 518.2,1015.2C522.1,1020.2 526.5,1024.5 530.7,1029.2C534.9,1033.9 539.1,1039.1 543.3,1043.3C547.5,1047.5 551.6,1050.9 555.8,1054.3C560.0,1057.7 563.6,1060.9 568.3,1063.7C573.0,1066.5 578.2,1068.7 583.9,1070.9C589.6,1073.1 596.4,1075.4 602.7,1077.1C609.0,1078.8 614.7,1079.8 621.5,1080.9C628.3,1082.1 637.0,1083.2 643.4,1084.0C649.8,1084.8 657.2,1085.2 660.0,1085.5" fill="none" stroke="#000" stroke-width="2.00" stroke-linejoin="round" stroke-linecap="butt" stroke-dasharray="10,4.5,2,4.5,2,4.5"/>
<path d="M342.5,1082.5L342.8,1081.5L343.1,1080.5L343.4,1079.3L343.8,1078.1L344.3,1077.1L344.8,1076.4L345.3,1075.2L345.8,1073.5L346.3,1072.1L346.9,1070.8L347.4,1069.3L347.9,1068.0L348.5,1066.6L349.0,1065.2L349.5,1063.9L350.0,1062.6L350.6,1061.1L351.3,1059.6L351.9,1057.9L352.5,1056.8L353.1,1055.8L353.8,1054.6L354.4,1054.0L355.0,1052.8L355.6,1051.4L356.2,1050.0L356.9,1048.6L357.5,1047.1L358.0,1046.2L358.6,1045.1L359.1,1044.2L359.6,1042.9L360.2,1041.4L360.7,1040.4L361.2,1039.1L361.8,1037.5L362.3,1035.8L362.9,1034.5L363.4,1033.4L363.9,1032.1L364.5,1031.0L365.0,1029.8L365.5,1028.9L365.9,1027.8L366.4,1026.4L366.9,1025.4L367.4,1024.0L367.9,1023.1L368.3,1021.5L368.8,1020.0L369.3,1018.8L369.8,1017.8L370.2,1016.0L370.7,1014.3L371.2,1013.3L371.6,1011.7L372.1,1010.6L372.5,1010.0L373.0,1008.6L373.5,1007.6L373.9,1006.5L374.4,1004.8L374.8,1003.4L375.3,1002.2L375.7,1001.1L376.2,1000.4L376.6,999.0L377.0,997.9L377.5,996.7L377.9,995.3L378.4,994.0L378.8,992.2L379.2,990.9L379.5,989.6L379.9,988.7L380.3,987.6L380.7,986.2L381.0,984.9L381.4,983.6L381.8,981.8L382.2,980.2L382.5,978.5L382.9,977.2L383.3,975.6L383.6,974.0L384.0,973.2L384.3,972.2L384.7,971.0L385.0,969.9L385.5,968.2L385.9,966.7L386.4,965.1L386.9,963.7L387.3,962.5L387.8,961.5L388.2,960.3L388.6,959.0L389.0,957.9L389.4,957.3L389.7,956.2L390.0,955.3L390.5,954.2L390.6,954.1L390.9,953.3L392.0,950.4L392.3,949.3L392.6,948.6L393.0,947.3L393.3,946.4L393.7,945.3L394.2,944.2L394.6,942.9L395.1,941.3L395.6,939.6L396.1,938.3L396.6,936.9L397.1,935.4L397.6,934.0L398.2,932.5L398.7,931.1L399.2,929.6L399.7,928.3L400.3,927.1L400.8,925.8L401.3,924.5L401.7,923.0L402.2,921.7L402.6,920.2L403.0,918.9L403.4,918.2L403.8,917.5L404.8,915.3L405.7,914.0L406.4,912.6L407.0,911.6L407.6,911.1L408.3,910.6L409.1,909.9L410.0,909.2L410.8,908.0L411.6,906.9L412.6,905.8L413.5,904.9L414.5,903.5L415.5,902.2L416.5,901.2L417.4,900.2L418.4,899.0L419.2,897.8L420.0,897.0L421.8,896.3L423.4,896.4L424.8,896.9L426.3,897.4L427.3,898.4L428.3,899.4L429.3,900.2L430.3,901.5L431.4,902.9L432.5,904.3L433.7,904.9L434.8,905.0L436.0,905.8L437.3,906.5L438.6,907.5L440.0,909.1L440.8,909.7L441.6,911.0L442.4,912.0L443.3,913.1L444.1,914.0L445.0,915.3L445.9,916.2L446.8,917.6L447.7,918.4L448.5,919.5L449.4,920.6L450.1,921.2L450.7,922.4L451.4,923.7L452.1,924.8L452.8,926.2L453.4,927.8L454.1,929.0L454.8,930.4L455.4,931.4L456.1,932.0L456.8,933.1L457.5,934.4L458.1,935.6L458.8,936.4L459.5,937.5L460.1,938.4L460.8,939.7L461.5,940.7L462.2,942.1L462.8,943.5L463.5,944.5L464.2,945.4L464.9,946.9L465.5,948.2L466.2,949.3L466.9,950.4L467.5,950.9L468.2,951.7L468.9,953.3L469.6,954.5L470.4,955.8L471.1,957.3L471.8,958.6L472.5,960.1L473.2,961.4L473.9,962.7L474.6,964.1L475.3,965.0L476.1,966.4L476.8,967.4L477.5,968.2L478.3,969.0L479.1,970.3L479.9,971.4L480.7,972.1L481.5,973.1L482.3,974.4L483.1,975.7L483.9,976.9L484.7,977.8L485.4,978.7L486.2,979.5L486.9,980.2L487.9,981.8L488.8,983.0L489.8,984.4L490.7,985.0L491.6,986.1L492.5,986.7L493.3,987.6L494.1,988.5L494.8,989.4L495.3,990.6L495.7,991.8L496.0,993.1L496.4,994.7L496.7,996.5L497.0,997.7L497.3,999.1L497.6,1000.6L497.9,1001.8L498.3,1002.9L498.6,1004.1L499.0,1005.2L499.5,1006.9L500.1,1008.7L500.8,1010.3L501.5,1011.4L502.2,1012.1L503.0,1013.2L503.8,1014.2L504.6,1015.0L505.5,1015.9L506.4,1017.2L507.3,1018.1L508.2,1019.4L509.1,1020.2L510.0,1021.2L511.0,1022.2L512.0,1023.3L513.0,1024.3L514.0,1024.8L515.0,1026.1L516.1,1027.0L517.1,1027.7L518.2,1029.0L519.2,1030.0L520.2,1031.4L521.2,1031.9L522.3,1032.5L523.4,1033.5L524.4,1034.7L525.5,1035.5L526.6,1037.0L527.6,1038.0L528.7,1038.7L529.7,1039.1L530.7,1039.9L531.8,1040.5L532.8,1041.5L533.9,1042.4L534.9,1043.4L536.0,1044.4L537.0,1045.8L538.0,1046.5L539.0,1047.5L539.9,1048.3L540.8,1048.8L541.7,1049.8L542.7,1050.6L543.6,1051.7L544.4,1052.7L545.1,1053.9L545.9,1055.0L546.7,1056.3L547.5,1057.5L548.4,1058.5L549.5,1059.2L550.5,1059.9L551.6,1060.1L552.8,1060.6L554.0,1061.4L555.3,1061.9L556.5,1062.4L557.9,1063.0L559.2,1063.9L560.6,1064.3L562.0,1065.0L563.1,1065.8L564.2,1066.4L565.3,1066.7L566.5,1067.5L567.7,1067.7L568.9,1068.3L570.1,1068.5L571.3,1068.5L572.5,1069.2L573.8,1069.6L575.1,1070.3L576.4,1070.9L577.7,1071.4L578.9,1071.6L580.1,1071.9L581.3,1072.2L582.5,1072.9L583.7,1073.2L585.0,1073.5L586.3,1074.2L587.6,1074.4L588.8,1074.6L590.1,1074.8L591.4,1075.4L592.7,1076.0L594.0,1076.2L595.2,1076.4L596.5,1076.6L597.8,1077.1L599.1,1077.4L600.3,1077.7L601.6,1078.1L602.8,1078.3L604.0,1078.6L605.3,1078.4L606.5,1078.7L607.8,1078.5L609.2,1078.9L610.6,1079.5L612.0,1079.8L613.6,1080.0L615.2,1079.9L616.4,1080.2L617.6,1079.7L618.8,1080.2L620.2,1080.3L621.5,1080.4L622.9,1080.7L624.4,1081.3L625.8,1081.7L627.3,1081.8L628.8,1082.1L630.2,1082.4L631.7,1082.0L633.2,1082.5L634.6,1082.8L636.0,1082.9L637.4,1083.2L638.7,1083.3L639.9,1083.3L641.2,1083.5L642.3,1083.6L643.4,1083.9L645.2,1084.4L646.9,1084.8L648.6,1085.2L650.1,1084.6L651.6,1085.1L653.0,1085.0L654.2,1085.4L655.4,1085.6L656.5,1085.4L657.4,1085.4L658.3,1085.4L659.0,1085.1" fill="none" stroke="#000" stroke-width="1.15" stroke-linejoin="round" stroke-linecap="butt"/>
<path d="M410.0,1086.8C410.8,1085.7 412.9,1081.9 415.0,1080.0C417.1,1078.1 419.6,1076.5 422.5,1075.5C425.4,1074.5 429.2,1074.5 432.5,1074.3C435.8,1074.1 438.8,1074.0 442.5,1074.5C446.2,1075.0 450.4,1076.7 455.0,1077.5C459.6,1078.3 464.7,1078.7 470.0,1079.3C475.3,1079.9 481.5,1080.3 486.9,1080.9C492.3,1081.5 494.8,1082.4 502.6,1083.0C510.4,1083.6 523.5,1084.1 533.9,1084.6C544.3,1085.1 554.8,1085.6 565.2,1085.9C575.6,1086.2 591.3,1086.4 596.5,1086.5" fill="none" stroke="#000" stroke-width="2.10" stroke-linejoin="round" stroke-linecap="butt" stroke-dasharray="6.3,5"/>
<path d="M104.2,1688.4L104.4,1687.7L105.0,1685.5L105.4,1685.1L105.8,1684.1L106.4,1682.4L106.9,1681.5L107.5,1680.1L108.2,1679.1L108.8,1677.4L109.6,1676.0L110.3,1674.5L111.2,1673.4L112.0,1671.8L112.9,1670.3L113.8,1669.9L114.9,1669.6L116.0,1668.7L117.2,1668.2L118.5,1668.0L120.0,1667.3L121.2,1666.6L122.6,1666.2L124.0,1666.0L125.5,1665.6L127.0,1665.3L128.5,1665.9L130.0,1665.6L131.5,1665.4L132.9,1666.1L134.4,1666.0L135.9,1666.8L137.3,1667.0L138.7,1667.4L140.0,1667.5L141.7,1668.2L143.2,1668.6L144.6,1668.6L146.0,1668.4L147.5,1668.4L148.8,1667.9L150.0,1667.5L151.3,1666.6L152.6,1665.5L153.8,1664.7L155.0,1663.6L156.1,1662.7L157.2,1661.8L158.2,1660.9L159.3,1660.0L160.3,1658.9L161.3,1657.9L162.0,1657.1L162.7,1656.2L163.4,1654.3L164.1,1653.0L164.8,1651.8L165.5,1650.6L166.2,1649.0L166.9,1647.5L167.5,1646.2L168.0,1645.3L168.5,1644.4L169.0,1642.9L169.4,1641.5L169.9,1639.9L170.3,1638.5L170.7,1637.2L171.2,1635.7L171.6,1635.0L172.0,1633.6L172.5,1632.0L172.9,1630.2L173.3,1629.2L173.8,1628.9L174.2,1627.9L174.6,1626.5L175.0,1625.5L175.4,1624.1L175.8,1623.3L176.2,1621.9L176.7,1620.4L177.1,1618.8L177.5,1618.0L177.9,1616.5L178.2,1615.5L178.6,1614.6L178.9,1612.9L179.3,1611.7L179.6,1610.1L180.0,1608.4L180.4,1607.3L180.7,1606.1L181.1,1604.9L181.4,1603.5L181.8,1603.1L182.1,1601.8L182.5,1600.7L182.9,1599.5L183.2,1597.7L183.6,1596.5L184.0,1595.5L184.3,1594.0L184.7,1593.2L185.1,1591.8L185.4,1590.4L185.8,1589.0L186.2,1587.3L186.5,1586.6L186.8,1585.7L187.2,1584.5L187.5,1583.3L187.9,1581.3L188.3,1579.6L188.7,1577.7L189.0,1576.3L189.4,1574.8L189.7,1572.9L190.1,1571.5L190.4,1569.9L190.7,1568.5L191.0,1567.8L191.3,1566.7L191.8,1565.2L192.1,1564.1L192.5,1563.3L192.8,1562.5L193.3,1561.6L193.8,1559.5L194.0,1558.7L194.3,1557.6L194.6,1556.6L194.9,1555.2L195.2,1553.9L195.5,1552.8L195.8,1551.7L196.1,1550.2L196.5,1548.9L196.8,1547.4L197.2,1545.5L197.5,1544.3L197.8,1543.2L198.2,1541.7L198.5,1540.8L198.8,1539.2L199.1,1538.2L199.4,1536.3L199.7,1534.9L200.0,1533.8L200.3,1532.3L200.6,1530.4L200.9,1528.4L201.2,1527.1L201.4,1526.2L201.7,1525.2L202.0,1524.2L202.3,1523.1L202.6,1521.7L202.9,1520.6L203.2,1519.1L203.5,1518.1L203.8,1516.7L204.1,1515.3L204.3,1514.0L204.6,1512.7L204.9,1511.4L205.1,1509.8L205.4,1508.7L205.6,1507.3L205.9,1505.8L206.2,1504.4L206.4,1503.3L206.7,1501.9L207.0,1500.5L207.2,1499.3L207.5,1497.8L207.7,1496.7L208.0,1495.5L208.3,1494.6L208.5,1493.1L208.8,1491.7L209.1,1489.3L209.3,1487.8L209.6,1486.0L209.9,1484.8L210.1,1483.7L210.4,1482.3L210.6,1481.4L210.9,1480.1L211.2,1479.4L211.4,1477.8L211.7,1476.0L212.0,1474.6L212.2,1472.9L212.5,1471.6L212.7,1470.6L213.0,1469.8L213.3,1468.8L213.5,1467.8L213.8,1466.1L214.2,1464.9L214.5,1463.7L214.9,1461.7L215.2,1460.5L215.6,1459.6L215.9,1458.0L216.3,1457.0L216.7,1455.5L217.0,1454.4L217.4,1453.1L217.7,1451.8L218.1,1450.7L218.4,1449.4L218.8,1448.3L219.3,1447.1L219.8,1445.6L220.3,1444.5L220.8,1442.9L221.3,1442.2L221.8,1440.3L222.3,1439.8L222.8,1438.4L223.3,1437.3L223.8,1436.1L224.4,1434.6L225.0,1433.4L225.6,1432.4L226.2,1430.9L226.8,1430.0L227.3,1428.2L227.9,1426.8L228.4,1425.8L228.8,1424.5L229.4,1423.1L229.8,1422.0L230.1,1421.0L230.5,1420.0L231.0,1418.6L231.7,1417.1L232.4,1415.7L233.2,1414.5L234.1,1413.0L235.0,1412.4L236.1,1411.2L237.4,1410.6L238.6,1409.8L240.0,1409.0L240.7,1407.8L241.5,1406.6L242.3,1405.9L243.1,1404.3L243.9,1403.2L244.7,1401.5L245.5,1400.8L246.3,1399.7L247.3,1398.9L248.4,1398.2L249.4,1397.1L250.4,1396.9L251.5,1396.0L252.5,1394.5L253.4,1393.4L254.4,1392.0L255.3,1390.6L256.3,1390.2L257.2,1389.1L258.0,1388.2L258.8,1387.1L259.6,1385.9L260.2,1384.7L260.7,1384.1L261.3,1382.5L261.8,1381.0L262.5,1378.6L262.9,1378.6L263.3,1377.4L263.7,1375.8L264.1,1374.8L264.5,1373.5L264.9,1372.8L265.4,1371.3L265.8,1370.4L266.2,1369.1L266.7,1368.0L267.1,1366.4L267.5,1365.5L268.5,1363.5L269.6,1362.7L270.6,1362.2L271.6,1361.2L272.5,1360.1L272.9,1358.8L273.2,1357.5L273.5,1355.8L273.9,1354.2L274.2,1352.7L274.5,1350.9L274.8,1349.5L275.1,1348.2L275.4,1346.5L275.7,1345.4L276.0,1344.8L276.3,1343.5L277.5,1341.8L278.8,1341.7L280.0,1342.0L281.3,1341.2L282.6,1339.5L283.8,1339.2L284.7,1340.6L285.4,1342.3L286.3,1343.6L287.1,1342.5L288.1,1340.2L289.0,1338.3L290.0,1337.7L290.5,1338.4L291.0,1339.1L291.6,1340.8L292.1,1342.1L292.6,1343.7L293.2,1346.1L293.8,1347.9L294.1,1348.4L294.4,1349.3L294.8,1350.2L295.1,1351.8L295.4,1353.8L295.8,1355.0L296.1,1357.2L296.5,1358.1L296.9,1358.9L297.2,1360.1L297.6,1361.6L298.0,1363.0L298.4,1364.1L298.8,1365.1L299.2,1366.1L299.6,1367.6L300.1,1368.9L300.5,1370.2L301.0,1371.2L301.4,1372.5L301.9,1373.8L302.4,1374.8L302.8,1375.9L303.3,1377.2L303.7,1378.8L304.2,1380.1L304.6,1381.7L305.0,1382.4L305.4,1383.9L305.7,1385.3L306.1,1387.0L306.4,1388.2L306.8,1389.1L307.1,1390.2L307.4,1391.9L307.7,1392.8L308.1,1394.0L308.4,1395.2L308.7,1396.9L309.0,1398.2L309.3,1399.7L309.7,1400.9L310.0,1402.5L310.3,1403.7L310.7,1405.4L311.0,1406.2L311.4,1407.8L311.8,1408.9L312.1,1410.5L312.5,1412.4L312.8,1414.1L313.2,1415.2L313.5,1416.3L313.8,1417.1L314.2,1418.5L314.5,1419.8L314.7,1421.1L315.0,1422.6L315.4,1423.9L315.7,1425.7L316.0,1426.9L316.2,1428.6L316.5,1428.9L316.8,1430.2L317.1,1431.8L317.5,1433.8L317.7,1434.7L318.0,1436.0L318.2,1436.9L318.5,1438.1L318.8,1438.8L319.1,1440.0L319.4,1441.7L319.8,1443.2L320.1,1445.3L320.4,1446.1L320.7,1447.8L321.0,1449.4L321.4,1451.3L321.7,1452.7L322.0,1453.6L322.2,1455.2L322.5,1456.4L322.7,1458.2L323.0,1459.6L323.2,1460.8L323.4,1461.5L323.6,1462.4L323.8,1462.8L324.0,1463.8L324.2,1465.7L324.4,1467.2L324.6,1469.0L324.8,1470.2L325.0,1471.4L325.1,1472.7L325.3,1474.3L325.5,1475.5L325.7,1477.2L325.9,1478.7L326.1,1479.7L326.3,1481.2L326.5,1482.9L326.6,1483.8L326.8,1484.3L326.9,1485.7L327.1,1486.8L327.3,1488.1L327.4,1489.8L327.6,1491.3L327.8,1492.4L327.9,1493.2L328.1,1494.5L328.2,1495.9L328.4,1497.3L328.5,1498.7L328.7,1499.9L328.9,1501.8L329.0,1502.6L329.2,1504.4L329.4,1505.2L329.5,1507.1L329.7,1508.2L329.8,1509.5L330.0,1510.2L330.2,1511.7L330.3,1512.5L330.5,1514.5L330.7,1516.3L330.8,1518.2L331.0,1519.8L331.2,1520.3L331.4,1521.5L331.5,1522.5L331.7,1524.0L331.9,1525.6L332.1,1527.3L332.2,1528.5L332.4,1529.7L332.6,1531.4L332.7,1533.2L332.9,1533.9L333.1,1535.4L333.2,1536.2L333.4,1537.9L333.5,1538.9L333.7,1540.4L333.8,1541.4L334.0,1543.0L334.2,1544.2L334.3,1545.3L334.5,1546.5L334.7,1547.5L334.8,1549.2L335.0,1550.4L335.1,1551.5L335.3,1552.7L335.4,1553.9L335.5,1555.5L335.7,1556.7L335.8,1558.6L335.9,1559.4L336.1,1560.3L336.2,1561.5L336.3,1562.2L336.4,1563.7L336.5,1565.0L336.6,1566.6L336.7,1568.1L336.8,1569.2L336.9,1570.8L337.0,1572.0L337.1,1573.5L337.1,1575.1L337.2,1576.7L337.3,1578.3L337.4,1579.4L337.5,1579.9L337.6,1581.7L337.6,1582.4L337.7,1584.0L337.8,1584.5L337.9,1585.7L338.0,1587.3L338.1,1589.0L338.2,1590.0L338.2,1591.7L338.3,1593.3L338.4,1594.8L338.5,1596.1L338.6,1597.4L338.7,1597.7L338.7,1599.3L338.8,1600.3L338.9,1601.7L339.0,1603.3L339.1,1604.6L339.2,1606.3L339.3,1607.8L339.3,1609.6L339.4,1610.9L339.5,1611.5L339.6,1613.1L339.7,1614.2L339.8,1615.8L339.9,1616.9L340.0,1618.0L340.1,1619.8L340.2,1621.3L340.4,1622.8L340.5,1623.6L340.6,1625.0L340.8,1625.6L340.9,1626.6L341.0,1628.4L341.2,1629.4L341.3,1631.1L341.4,1632.1L341.6,1634.2L341.7,1635.9L341.8,1637.1L342.0,1638.0L342.1,1638.7L342.2,1639.4L342.4,1640.9L342.5,1642.2L342.6,1643.9L342.8,1645.5L342.9,1646.9L343.1,1647.7L343.2,1649.1L343.4,1650.4L343.5,1652.2L343.7,1653.9L343.8,1654.9L344.0,1655.9L344.1,1657.1L344.3,1658.4L344.4,1659.8L344.6,1661.7L344.7,1662.9L344.9,1664.2L345.0,1665.8L345.2,1667.5L345.3,1669.0L345.5,1670.4L345.7,1671.6L345.9,1673.3L346.1,1674.4L346.2,1675.9L346.4,1676.8L346.6,1678.4L346.8,1679.5L346.9,1680.7L347.1,1682.0L347.2,1683.2L347.4,1684.6L347.5,1685.7L347.9,1688.4L348.3,1689.4L348.6,1690.3L348.8,1690.3" fill="none" stroke="#000" stroke-width="3.40" stroke-linejoin="round" stroke-linecap="butt"/>
<path d="M104.6,1691.5C104.8,1691.0 104.6,1690.6 105.5,1688.5C106.4,1686.4 108.4,1681.5 110.0,1678.8C111.6,1676.0 112.9,1673.5 115.0,1672.0C117.1,1670.5 119.6,1670.0 122.5,1669.5C125.4,1669.0 128.8,1668.9 132.5,1669.0C136.2,1669.1 141.2,1670.5 145.0,1670.0C148.8,1669.5 152.1,1668.2 155.0,1666.3C157.9,1664.4 160.2,1661.9 162.5,1658.8C164.8,1655.7 166.7,1652.1 168.8,1647.5C170.9,1642.9 173.1,1636.5 175.0,1631.3C176.9,1626.1 178.3,1621.7 180.0,1616.3C181.7,1610.9 183.3,1604.6 185.0,1598.8C186.7,1593.0 188.5,1586.5 190.0,1581.3C191.5,1576.1 192.8,1571.1 193.8,1567.5C194.9,1563.9 195.1,1564.6 196.3,1559.8C197.6,1555.0 199.4,1546.2 201.3,1538.5C203.2,1530.8 205.6,1521.4 207.5,1513.5C209.4,1505.6 210.8,1498.1 212.5,1491.0C214.2,1483.9 215.6,1477.7 217.5,1471.0C219.4,1464.3 221.7,1456.8 223.8,1451.0C225.9,1445.2 228.1,1439.3 230.0,1436.0C231.9,1432.7 232.5,1433.3 235.0,1431.3C237.5,1429.3 241.9,1426.5 245.0,1423.8C248.1,1421.1 250.9,1418.1 253.8,1415.0C256.7,1411.9 260.0,1409.2 262.5,1405.0C265.0,1400.8 266.9,1395.4 268.8,1390.0C270.7,1384.6 271.9,1376.7 273.8,1372.5C275.7,1368.3 277.9,1366.6 280.0,1365.0C282.1,1363.4 284.2,1363.2 286.3,1363.0C288.4,1362.8 290.8,1362.2 292.5,1363.8C294.2,1365.4 294.8,1368.1 296.3,1372.5C297.8,1376.9 299.6,1384.2 301.3,1390.0C303.0,1395.8 304.9,1403.2 306.3,1407.5C307.8,1411.8 308.6,1411.2 310.0,1416.0C311.4,1420.8 313.3,1428.5 315.0,1436.0C316.7,1443.5 318.5,1452.7 320.0,1461.0C321.5,1469.3 322.6,1477.7 323.8,1486.0C325.1,1494.3 326.2,1502.7 327.5,1511.0C328.8,1519.3 330.2,1527.9 331.3,1536.0C332.4,1544.1 333.0,1551.1 333.8,1559.8C334.6,1568.5 335.1,1579.1 336.0,1588.0C336.9,1596.9 337.8,1604.7 339.0,1613.0C340.2,1621.3 341.8,1631.8 343.0,1638.0C344.2,1644.2 345.1,1645.0 346.3,1650.0C347.5,1655.0 348.8,1661.7 350.0,1668.0C351.2,1674.3 351.7,1683.2 353.8,1688.0C355.9,1692.8 361.1,1695.3 362.5,1696.8" fill="none" stroke="#000" stroke-width="2.00" stroke-linejoin="round" stroke-linecap="butt" stroke-dasharray="6,4.6"/>
<path d="M104.5,1693.5C105.4,1692.3 107.8,1688.1 110.0,1686.3C112.2,1684.5 114.6,1683.2 117.5,1682.5C120.4,1681.8 123.8,1682.0 127.5,1682.0C131.2,1682.0 135.8,1682.6 140.0,1682.5C144.2,1682.4 148.8,1682.5 152.5,1681.3C156.2,1680.0 159.2,1677.9 162.5,1675.0C165.8,1672.1 169.4,1668.2 172.5,1663.8C175.6,1659.4 178.6,1654.0 181.3,1648.8C184.0,1643.6 186.5,1637.9 188.8,1632.5C191.1,1627.1 192.9,1621.7 195.0,1616.3C197.1,1610.9 199.2,1605.2 201.3,1600.0C203.4,1594.8 205.4,1589.8 207.5,1585.0C209.6,1580.2 211.7,1575.5 213.8,1571.3C215.9,1567.1 217.9,1564.0 220.0,1559.8C222.1,1555.6 223.8,1549.5 226.3,1546.0C228.8,1542.5 231.9,1540.6 235.0,1538.5C238.1,1536.4 241.7,1535.4 245.0,1533.5C248.3,1531.6 251.9,1529.4 255.0,1527.3C258.1,1525.2 261.3,1523.7 263.8,1521.0C266.3,1518.3 267.9,1514.5 270.0,1511.0C272.1,1507.5 274.2,1502.4 276.3,1499.8C278.4,1497.2 280.2,1496.2 282.5,1495.5C284.8,1494.8 287.7,1494.2 290.0,1495.5C292.3,1496.8 294.2,1500.3 296.3,1503.5C298.4,1506.7 300.4,1511.0 302.5,1514.8C304.6,1518.5 306.9,1522.1 308.8,1526.0C310.7,1529.9 311.9,1531.8 313.8,1538.0C315.7,1544.2 317.9,1554.7 320.0,1563.0C322.1,1571.3 324.4,1580.1 326.3,1588.0C328.2,1595.9 329.9,1603.0 331.3,1610.5C332.8,1618.0 333.8,1625.5 335.0,1633.0C336.2,1640.5 337.6,1648.4 338.8,1655.5C340.1,1662.6 341.1,1669.7 342.5,1675.5C343.9,1681.3 345.4,1687.2 347.5,1690.5C349.6,1693.8 353.8,1694.7 355.0,1695.5" fill="none" stroke="#000" stroke-width="2.10" stroke-linejoin="round" stroke-linecap="butt" stroke-dasharray="12.5,4,2.4,4"/>
<path d="M104.5,1695.1L105.3,1695.1L106.5,1694.4L107.9,1693.5L109.4,1692.7L111.0,1692.3L112.5,1692.0L113.8,1691.4L115.1,1690.8L116.4,1690.1L117.8,1689.7L119.2,1689.2L120.8,1689.1L122.5,1688.9L123.7,1688.8L124.9,1689.0L126.2,1689.1L127.6,1688.9L129.0,1689.1L130.4,1689.1L131.8,1689.3L133.3,1689.3L134.7,1689.2L136.1,1689.5L137.5,1689.2L138.9,1689.2L140.3,1689.5L141.7,1689.4L143.1,1689.4L144.5,1689.5L145.9,1689.5L147.2,1689.5L148.6,1689.7L149.9,1689.6L151.2,1689.8L152.5,1689.6L153.9,1688.7L155.2,1687.9L156.5,1687.5L157.8,1687.4L159.1,1687.0L160.3,1687.0L161.5,1686.6L162.7,1686.2L163.9,1685.5L165.0,1685.0L166.2,1684.6L167.4,1684.4L168.5,1683.8L169.6,1683.1L170.7,1682.3L171.8,1681.2L172.8,1680.0L173.9,1679.5L175.0,1678.5L175.9,1678.0L176.8,1677.1L177.7,1676.1L178.6,1675.2L179.5,1674.3L180.5,1673.4L181.4,1672.1L182.3,1671.0L183.2,1670.1L184.1,1668.8L185.0,1667.7L185.8,1666.4L186.7,1665.4L187.6,1664.1L188.4,1662.9L189.3,1661.8L190.2,1660.8L191.0,1660.1L191.9,1659.0L192.7,1658.3L193.5,1657.3L194.3,1656.0L195.0,1654.8L195.9,1653.8L196.8,1652.5L197.7,1651.2L198.5,1650.4L199.3,1649.4L200.1,1648.3L200.9,1647.3L201.7,1646.3L202.5,1644.9L203.3,1643.7L204.0,1642.7L204.8,1641.6L205.6,1640.1L206.3,1639.3L207.1,1638.3L207.8,1637.3L208.6,1636.2L209.3,1635.1L210.0,1633.7L210.8,1632.5L211.5,1631.5L212.2,1630.4L212.9,1629.6L213.6,1628.4L214.3,1626.9L214.9,1626.1L215.6,1624.5L216.3,1623.4L217.3,1622.3L218.3,1621.0L219.3,1619.6L220.3,1618.7L221.4,1618.5L222.5,1617.5L223.6,1616.4L224.7,1615.4L225.9,1615.0L227.1,1614.3L228.4,1613.5L230.0,1612.9L231.0,1611.9L232.2,1611.5L233.4,1610.6L234.6,1609.9L235.9,1609.3L237.3,1608.9L238.6,1608.4L239.9,1608.1L241.2,1607.9L242.5,1607.7L243.8,1607.5L245.0,1607.0L246.3,1606.7L247.6,1606.2L248.9,1605.9L250.2,1605.6L251.4,1605.2L252.7,1605.0L253.9,1604.8L255.0,1604.4L256.4,1603.9L257.7,1603.2L258.9,1602.5L260.2,1601.7L261.4,1600.9L262.6,1600.2L263.8,1599.6L265.0,1598.7L266.1,1597.9L267.3,1597.3L268.5,1595.9L269.7,1595.1L270.9,1594.3L272.0,1593.7L273.1,1593.0L274.1,1592.0L275.0,1591.7L276.3,1590.6L277.2,1589.1L278.1,1588.1L278.9,1587.5L280.0,1586.7L281.1,1586.0L282.3,1585.1L283.6,1584.5L284.9,1584.2L286.2,1583.8L287.5,1584.2L288.5,1585.0L289.6,1585.5L290.6,1586.2L291.6,1586.9L292.7,1587.9L293.8,1589.2L295.0,1590.5L295.8,1591.1L296.7,1592.1L297.5,1592.9L298.5,1594.0L299.4,1595.1L300.3,1596.3L301.3,1597.6L302.2,1598.6L303.1,1599.2L304.1,1600.3L305.0,1601.3L305.8,1602.3L306.6,1603.3L307.4,1604.2L308.2,1605.5L309.0,1606.4L309.8,1607.6L310.6,1608.7L311.3,1610.0L312.1,1611.3L312.9,1612.5L313.6,1613.8L314.3,1614.5L315.0,1615.4L315.7,1616.3L316.4,1617.3L317.1,1619.1L317.7,1620.5L318.4,1621.9L319.0,1623.2L319.6,1624.4L320.2,1625.6L320.8,1626.7L321.3,1628.1L321.9,1629.0L322.5,1630.6L323.1,1631.5L323.6,1632.6L324.2,1633.9L324.7,1635.4L325.2,1636.3L325.7,1637.7L326.2,1639.4L326.8,1640.3L327.3,1641.6L327.8,1643.2L328.3,1644.8L328.8,1645.7L329.2,1646.8L329.7,1647.9L330.1,1649.0L330.6,1650.5L331.0,1652.0L331.5,1653.0L331.9,1654.3L332.3,1655.1L332.8,1656.4L333.2,1657.8L333.7,1659.8L334.1,1661.1L334.6,1662.0L335.0,1663.2L335.5,1664.6L336.0,1665.8L336.6,1667.2L337.1,1668.3L337.6,1669.4L338.2,1670.8L338.7,1671.6L339.2,1672.9L339.7,1674.1L340.3,1676.1L340.8,1677.4L341.3,1678.8L341.9,1679.9L342.5,1680.9L343.1,1681.9L343.7,1683.1L344.3,1684.2L344.9,1685.3L345.5,1686.5L346.2,1688.0L346.8,1689.3L347.5,1690.8L348.6,1691.9L349.8,1693.0L351.0,1694.0L352.2,1694.8L353.4,1695.6L354.3,1696.0L355.0,1696.4" fill="none" stroke="#000" stroke-width="1.15" stroke-linejoin="round" stroke-linecap="butt"/>
<path d="M104.5,1696.6C105.8,1696.1 109.5,1693.8 112.5,1693.8C115.5,1693.8 117.9,1695.9 122.5,1696.3C127.1,1696.7 134.2,1696.7 140.0,1696.3C145.8,1695.9 152.5,1694.8 157.5,1693.8C162.5,1692.8 165.8,1691.5 170.0,1690.0C174.2,1688.5 178.3,1686.8 182.5,1684.5C186.7,1682.2 190.8,1679.1 195.0,1676.3C199.2,1673.5 203.3,1669.9 207.5,1667.5C211.7,1665.1 215.4,1663.3 220.0,1662.0C224.6,1660.7 230.0,1660.5 235.0,1659.5C240.0,1658.5 245.0,1657.5 250.0,1656.3C255.0,1655.1 260.0,1653.9 265.0,1652.5C270.0,1651.1 275.8,1649.1 280.0,1648.0C284.2,1646.9 286.7,1645.8 290.0,1646.0C293.3,1646.2 296.7,1647.7 300.0,1649.3C303.3,1650.9 306.7,1653.4 310.0,1655.5C313.3,1657.6 317.1,1660.1 320.0,1661.8C322.9,1663.5 325.0,1662.4 327.5,1665.5C330.0,1668.6 332.5,1676.1 335.0,1680.5C337.5,1684.9 340.0,1689.1 342.5,1691.8C345.0,1694.5 348.8,1696.0 350.0,1696.8" fill="none" stroke="#000" stroke-width="2.30" stroke-linejoin="round" stroke-linecap="butt" stroke-dasharray="5.6,3.5"/>
<path d="M120.0,1697.5C126.2,1697.4 148.3,1697.5 157.5,1697.0C166.7,1696.5 169.6,1695.7 175.0,1694.5C180.4,1693.3 185.0,1691.5 190.0,1690.0C195.0,1688.5 200.0,1686.8 205.0,1685.5C210.0,1684.2 214.2,1683.3 220.0,1682.5C225.8,1681.7 233.3,1681.1 240.0,1680.5C246.7,1679.9 253.3,1679.6 260.0,1678.8C266.7,1678.0 275.0,1676.1 280.0,1675.5C285.0,1674.9 286.2,1674.8 290.0,1675.0C293.8,1675.2 298.8,1676.1 302.5,1676.8C306.2,1677.5 308.8,1677.8 312.5,1679.3C316.2,1680.8 321.2,1683.6 325.0,1685.5C328.8,1687.4 331.7,1688.8 335.0,1690.5C338.3,1692.2 343.3,1694.7 345.0,1695.5" fill="none" stroke="#000" stroke-width="2.20" stroke-linejoin="round" stroke-linecap="butt" stroke-dasharray="9,5,2.3,5,2.3,5"/>
<path d="M296.3,1697.2L297.3,1697.1L298.6,1696.8L300.2,1696.3L301.9,1695.7L303.5,1694.9L305.0,1694.7L306.6,1694.5L308.2,1694.6L309.7,1694.4L311.2,1694.1L312.5,1693.5L313.5,1692.2L314.3,1691.2L315.1,1689.9L315.8,1688.4L316.6,1686.9L317.5,1684.6L318.0,1684.0L318.5,1682.8L319.0,1681.9L319.6,1681.0L320.1,1679.8L320.7,1678.6L321.2,1677.3L321.7,1676.4L322.3,1674.6L322.8,1673.5L323.3,1672.1L323.8,1670.8L324.2,1669.5L324.6,1668.0L325.0,1667.0L325.4,1666.0L325.7,1664.9L326.1,1663.8L326.5,1662.0L326.8,1660.2L327.2,1658.8L327.5,1657.8L327.8,1657.0L328.2,1656.2L328.5,1655.0L328.8,1653.2L329.1,1651.8L329.4,1650.1L329.6,1648.8L329.9,1647.5L330.1,1646.4L330.4,1645.2L330.6,1644.2L330.8,1642.7L331.1,1641.5L331.3,1639.6L331.5,1638.0L331.8,1636.2L332.0,1635.0L332.3,1633.8L332.5,1633.1L332.7,1632.6L332.9,1630.9L333.2,1629.3L333.4,1627.2L333.6,1626.1L333.8,1625.2L334.1,1624.1L334.3,1623.2L334.5,1621.7L334.7,1620.4L335.0,1619.0L335.2,1617.6L335.4,1616.3L335.6,1615.1L335.9,1613.8L336.1,1612.0L336.3,1610.8L336.5,1609.9L336.7,1608.4L336.8,1607.1L337.0,1605.4L337.2,1604.5L337.4,1603.0L337.5,1601.8L337.7,1600.8L337.9,1599.4L338.1,1598.2L338.2,1596.7L338.4,1595.2L338.6,1593.8L338.8,1592.4L338.9,1590.6L339.1,1589.4L339.3,1588.4L339.5,1587.2L339.6,1586.1L339.8,1584.7L340.0,1583.4L340.2,1581.8L340.3,1580.5L340.5,1579.3L340.7,1577.5L340.9,1576.1L341.0,1574.7L341.2,1573.7L341.4,1572.6L341.6,1571.0L341.8,1569.9L341.9,1568.5L342.1,1567.0L342.3,1565.7L342.5,1564.3L342.6,1563.1L342.8,1561.6L343.0,1559.6L343.1,1557.9L343.3,1556.6L343.4,1556.3L343.5,1555.1L343.7,1554.5L343.8,1553.4L344.0,1551.5L344.2,1550.2L344.4,1548.7L344.6,1547.4L344.7,1546.4L344.8,1545.3L344.9,1544.2L345.1,1542.8L345.2,1541.8L345.3,1540.3L345.5,1538.1L345.6,1537.6L345.6,1536.3L345.7,1535.5L345.7,1533.8L345.8,1532.8L345.9,1532.3L345.9,1531.3L346.0,1530.0L346.0,1528.9L346.1,1527.1L346.1,1525.8L346.2,1524.1L346.3,1522.6L346.3,1521.4L346.4,1520.3L346.4,1518.9L346.5,1517.5L346.6,1515.5L346.6,1513.7L346.7,1512.4L346.8,1511.0L346.8,1509.5L346.9,1507.7L347.0,1506.9L347.1,1505.6L347.1,1504.4L347.2,1503.4L347.3,1502.1L347.4,1500.7L347.5,1499.5L347.6,1498.0L347.7,1496.4L347.8,1495.2L347.9,1493.7L348.1,1492.5L348.2,1491.0L348.3,1489.5L348.5,1488.4L348.6,1487.4L348.7,1485.8L348.9,1484.5L349.0,1483.0L349.2,1481.9L349.3,1480.4L349.4,1478.9L349.6,1477.4L349.7,1475.8L349.9,1474.6L350.0,1473.2L350.2,1472.4L350.3,1470.8L350.5,1469.8L350.6,1468.6L350.7,1467.7L350.9,1465.9L351.0,1464.1L351.2,1463.0L351.3,1461.6L351.4,1460.5L351.6,1459.0L351.7,1457.6L351.8,1455.7L352.0,1454.6L352.1,1452.8L352.3,1451.8L352.4,1450.0L352.5,1448.6L352.7,1447.3L352.8,1446.1L353.0,1444.7L353.1,1443.2L353.2,1442.0L353.4,1440.8L353.5,1439.6L353.6,1437.9L353.8,1436.8L353.9,1435.5L354.0,1434.2L354.2,1433.1L354.3,1431.4L354.4,1430.0L354.5,1428.5L354.7,1427.2L354.8,1425.8L354.9,1424.6L355.0,1424.4L355.2,1423.4L355.3,1422.2L355.4,1420.9L355.6,1419.0L355.7,1417.3L355.8,1415.5L355.9,1414.1L356.0,1412.9L356.1,1412.1L356.2,1411.0L356.4,1409.5L356.5,1408.2L356.6,1407.1L356.7,1406.1L356.8,1405.2L356.9,1404.2L357.1,1402.8L357.2,1401.1L357.3,1399.5L357.5,1398.0L357.6,1396.9L357.7,1395.6L357.9,1394.8L358.0,1393.4L358.1,1392.1L358.3,1390.7L358.4,1389.4L358.5,1388.3L358.7,1386.6L358.8,1385.0L359.0,1383.8L359.1,1381.8L359.3,1380.7L359.4,1379.1L359.5,1377.7L359.7,1376.3L359.8,1375.0L360.0,1374.2L360.1,1373.0L360.3,1372.0L360.4,1370.7L360.6,1369.4L360.7,1368.2L360.9,1366.6L361.0,1365.4L361.2,1363.6L361.3,1362.4L361.5,1361.2L361.6,1359.8L361.8,1358.8L361.9,1357.3L362.1,1356.0L362.3,1354.2L362.4,1353.0L362.6,1351.9L362.8,1350.6L362.9,1349.2L363.1,1348.1L363.2,1346.6L363.4,1345.2L363.5,1344.1L363.7,1342.3L363.9,1341.0L364.0,1339.9L364.2,1338.3L364.4,1337.4L364.5,1336.4L364.7,1334.9L364.8,1333.8L365.0,1332.3L365.2,1331.6L365.4,1330.1L365.5,1328.3L365.7,1326.9L365.9,1325.3L366.1,1324.4L366.3,1322.4L366.4,1321.1L366.6,1319.6L366.8,1318.3L367.0,1317.2L367.2,1316.0L367.4,1314.2L367.5,1313.4L367.7,1312.2L367.9,1311.2L368.1,1309.4L368.3,1308.4L368.4,1306.7L368.6,1305.7L368.8,1304.5L369.1,1303.5L369.4,1301.5L369.6,1299.8L369.9,1298.5L370.2,1296.9L370.4,1295.4L370.7,1294.3L371.0,1292.6L371.3,1291.4L371.6,1289.8L371.9,1288.4L372.2,1287.5L372.5,1286.8L373.2,1285.3L373.9,1284.8L374.6,1283.0L375.3,1281.7L376.1,1280.9L376.8,1279.9L377.5,1278.9L378.3,1277.5L379.0,1276.0L379.7,1274.9L380.4,1273.2L381.1,1272.9L381.8,1272.2L382.9,1271.8L384.0,1273.1L385.1,1274.3L386.3,1275.5L387.0,1276.4L387.7,1277.1L388.4,1278.4L389.1,1279.9L389.9,1281.9L390.6,1283.8L391.3,1284.5L391.8,1286.1L392.3,1287.0L392.8,1288.1L393.3,1289.1L393.8,1291.1L394.3,1292.2L394.8,1293.9L395.3,1294.7L395.8,1296.3L396.3,1297.6L396.8,1298.4L397.3,1299.4L397.8,1300.5L398.3,1302.6L398.9,1303.9L399.4,1305.0L399.9,1306.3L400.4,1308.2L400.8,1309.4L401.3,1310.5L401.7,1311.6L402.1,1313.0L402.5,1314.3L402.8,1315.7L403.2,1316.6L403.5,1317.9L403.9,1319.3L404.3,1320.7L404.6,1321.9L405.1,1323.9L405.5,1324.7L406.0,1326.2L406.6,1327.7L407.1,1328.6L407.7,1330.7L408.4,1332.0L409.0,1333.3L409.6,1334.5L410.2,1335.3L410.7,1336.5L411.3,1337.4L411.7,1339.1L412.1,1340.3L412.4,1341.5L412.8,1342.5L413.2,1343.7L413.6,1344.4L413.9,1345.5L414.3,1346.8L414.6,1348.5L415.0,1349.9L415.3,1351.2L415.7,1353.2L416.0,1354.4L416.3,1355.7L416.6,1357.0L416.9,1358.2L417.2,1359.6L417.5,1361.1L417.8,1362.8L418.1,1363.8L418.4,1364.8L418.6,1366.0L418.9,1367.1L419.2,1367.9L419.4,1369.4L419.7,1371.0L420.0,1372.4L420.3,1373.7L420.7,1375.5L421.1,1377.3L421.4,1378.8L421.8,1380.3L422.2,1381.4L422.5,1382.7L422.9,1384.1L423.2,1385.4L423.5,1386.8L423.8,1387.9L424.4,1389.5L424.8,1390.4L425.3,1391.8L425.7,1392.5L426.3,1394.5L426.5,1395.4L426.8,1396.2L427.0,1397.2L427.3,1398.8L427.6,1400.0L427.9,1400.9L428.1,1402.3L428.4,1403.6L428.7,1405.0L429.0,1406.6L429.3,1408.1L429.7,1410.0L430.0,1411.4L430.2,1412.5L430.5,1413.9L430.7,1415.0L431.0,1416.1L431.3,1417.0L431.5,1418.4L431.8,1419.9L432.1,1421.5L432.4,1423.3L432.6,1424.6L432.9,1425.6L433.2,1426.6L433.5,1428.1L433.7,1429.8L434.0,1431.4L434.3,1432.9L434.5,1434.5L434.8,1435.4L435.0,1436.8L435.2,1437.8L435.4,1439.4L435.6,1441.0L435.8,1442.3L436.0,1443.7L436.2,1444.6L436.4,1446.2L436.6,1447.6L436.8,1448.6L437.0,1449.5L437.1,1450.8L437.3,1452.1L437.5,1453.8L437.7,1455.3L437.8,1456.5L438.0,1458.1L438.2,1459.6L438.3,1460.8L438.5,1462.1L438.6,1463.0L438.8,1464.0L439.0,1465.1L439.2,1467.3L439.4,1468.9L439.6,1470.5L439.7,1471.6L439.9,1472.7L440.1,1473.8L440.2,1475.1L440.4,1476.0L440.6,1477.6L440.8,1479.0L441.0,1480.3L441.3,1481.5L441.6,1482.6L441.9,1483.9L442.2,1485.2L442.5,1487.1L442.8,1488.6L443.1,1490.0L443.5,1491.0L443.8,1492.8L444.2,1493.5L444.6,1494.2L445.0,1495.3L445.4,1496.0L445.9,1497.8L446.3,1499.8L446.6,1501.3L447.0,1502.0L447.3,1503.0L447.7,1504.8L448.0,1505.5L448.4,1507.3L448.8,1509.0L449.1,1510.2L449.5,1511.8L449.9,1512.9L450.3,1513.8L450.7,1515.0L451.1,1515.9L451.6,1517.1L452.0,1518.2L452.4,1519.7L452.8,1520.8L453.2,1522.1L453.7,1523.1L454.1,1525.0L454.5,1526.2L454.9,1527.5L455.3,1528.6L455.7,1530.4L456.1,1531.5L456.5,1532.8L457.0,1534.1L457.4,1535.4L457.8,1536.7L458.3,1537.7L458.7,1539.2L459.1,1540.3L459.6,1541.1L460.0,1543.4L460.5,1544.7L460.9,1546.4L461.3,1547.3L461.8,1548.4L462.2,1549.8L462.6,1550.3L463.1,1551.2L463.5,1552.3L463.9,1552.9L464.4,1554.1L464.8,1556.0L465.2,1556.9L465.6,1558.6L466.1,1560.8L466.5,1562.6L466.9,1563.8L467.4,1565.4L467.8,1566.6L468.2,1567.9L468.6,1568.6L469.1,1569.9L469.5,1571.1L469.9,1572.0L470.3,1573.3L470.8,1575.5L471.2,1577.6L471.6,1578.5L472.0,1578.9L472.5,1579.7L472.9,1580.8L473.4,1582.1L473.8,1583.0L474.3,1584.6L474.7,1585.8L475.2,1587.6L475.6,1589.1L476.1,1590.7L476.5,1591.9L477.0,1592.9L477.4,1594.5L477.9,1595.6L478.4,1596.9L478.8,1598.3L479.3,1599.8L479.8,1600.5L480.2,1601.4L480.7,1602.5L481.2,1603.5L481.7,1605.0L482.2,1606.2L482.8,1607.8L483.3,1608.8L483.9,1610.4L484.5,1611.5L485.1,1612.7L485.7,1613.6L486.4,1615.3L487.0,1616.2L487.6,1617.6L488.2,1618.9L488.9,1620.0L489.5,1621.0L490.1,1622.9L490.7,1624.0L491.4,1625.7L492.0,1626.4L492.6,1627.2L493.2,1628.3L493.9,1629.7L494.6,1631.2L495.2,1632.2L495.9,1633.3L496.6,1634.2L497.2,1635.0L497.9,1636.0L498.6,1637.8L499.2,1638.9L499.9,1639.6L500.6,1641.3L501.3,1643.1L502.0,1644.3L502.7,1645.5L503.4,1646.5L504.1,1646.2L504.9,1647.3L505.7,1648.9L506.5,1650.2L507.3,1651.7L508.1,1652.8L509.0,1654.2L509.8,1655.0L510.6,1655.9L511.5,1657.2L512.3,1657.9L513.2,1658.7L514.1,1659.8L514.9,1661.4L515.8,1662.5L516.7,1663.9L517.7,1664.5L518.8,1665.0L519.8,1665.4L520.8,1666.0L521.9,1666.9L523.0,1667.7L524.0,1668.7L525.1,1669.4L526.2,1670.3L527.3,1671.3L528.4,1672.0L529.6,1672.6L530.7,1673.3L531.8,1674.3L533.0,1674.7L534.1,1675.6L535.3,1676.5L536.5,1676.7L537.7,1677.5L538.8,1677.3L540.1,1678.1L541.3,1678.9L542.5,1679.9L543.8,1680.8L545.1,1681.1L546.4,1681.2L547.6,1681.5L548.8,1682.1L550.0,1682.5L551.2,1684.0L552.4,1684.0L553.7,1684.6L555.0,1685.3L556.3,1685.5L557.5,1685.9L558.8,1686.0L560.1,1686.6L561.4,1686.8L562.7,1687.0L563.9,1687.0L565.2,1686.8L566.5,1687.2L567.8,1688.2L569.2,1688.9L570.5,1689.8L571.8,1690.2L573.1,1690.2L574.4,1690.6L575.7,1690.8L577.0,1691.1L578.3,1691.7L579.7,1691.9L581.1,1692.0L582.5,1692.4L583.9,1692.5L585.2,1693.0L586.4,1693.4L587.7,1693.5L589.0,1693.5L590.3,1693.2L591.6,1693.0L592.9,1693.3L594.3,1693.1L595.6,1693.3L597.0,1693.3L598.4,1693.1L599.8,1693.7L601.3,1694.1L602.7,1694.6L604.3,1694.7L605.8,1694.6L607.0,1694.6L608.3,1694.8L609.5,1694.8L610.8,1694.9L612.1,1695.5L613.5,1696.0L614.9,1695.8L616.2,1695.8L617.6,1696.3L619.0,1696.2L620.4,1695.7L621.8,1695.8L623.2,1695.9L624.6,1695.7L626.0,1696.3L627.4,1696.3L628.7,1695.9L630.1,1696.1L631.4,1696.1L632.7,1696.4L634.0,1696.8L635.4,1697.2L636.9,1697.2L638.4,1697.0L639.9,1696.8L641.4,1696.2L643.0,1696.9L644.5,1696.8L646.0,1697.1L647.5,1697.2L649.0,1696.9L650.4,1696.4L651.8,1696.3L653.1,1696.6L654.3,1696.9L655.4,1697.0L656.5,1697.2L657.4,1697.2L658.3,1697.2L659.0,1697.2" fill="none" stroke="#000" stroke-width="3.40" stroke-linejoin="round" stroke-linecap="butt"/>
<path d="M322.0,1695.0C322.9,1692.5 325.9,1685.3 327.5,1680.0C329.1,1674.7 330.3,1669.7 331.5,1663.0C332.7,1656.3 333.8,1648.3 334.8,1640.0C335.9,1631.7 336.8,1621.7 337.8,1613.0C338.8,1604.3 340.0,1596.5 341.0,1588.0C342.0,1579.5 342.9,1570.8 343.8,1562.0C344.7,1553.2 345.6,1545.8 346.5,1535.0C347.4,1524.2 348.1,1509.8 349.2,1497.0C350.3,1484.2 351.7,1470.2 352.9,1458.0C354.1,1445.8 355.4,1435.3 356.6,1424.0C357.8,1412.7 358.8,1399.8 360.0,1390.0C361.2,1380.2 362.6,1373.8 363.8,1365.0C365.1,1356.2 366.2,1345.4 367.5,1337.5C368.8,1329.6 370.1,1322.7 371.3,1317.5C372.6,1312.3 373.3,1309.4 375.0,1306.3C376.7,1303.2 379.6,1300.3 381.3,1298.8C383.0,1297.2 383.6,1295.5 385.0,1297.0C386.4,1298.5 388.1,1303.2 390.0,1307.5C391.9,1311.8 394.2,1317.9 396.3,1322.5C398.4,1327.1 400.4,1330.8 402.5,1335.0C404.6,1339.2 406.9,1342.9 408.8,1347.5C410.7,1352.1 412.3,1357.1 413.8,1362.5C415.3,1367.9 416.8,1374.8 418.0,1380.0C419.2,1385.2 420.3,1391.0 421.3,1393.8C422.3,1396.6 422.6,1392.8 423.8,1397.0C425.1,1401.2 427.1,1411.2 428.8,1419.0C430.5,1426.8 432.4,1435.7 433.8,1444.0C435.2,1452.3 436.2,1460.7 437.5,1469.0C438.8,1477.3 440.1,1488.3 441.3,1494.0C442.5,1499.7 442.8,1497.6 444.7,1503.0C446.6,1508.4 449.6,1517.7 452.5,1526.6C455.4,1535.5 458.8,1546.6 461.9,1556.3C465.0,1566.0 468.2,1575.6 471.3,1584.5C474.4,1593.4 477.3,1601.7 480.7,1609.5C484.1,1617.3 488.0,1624.6 491.6,1631.4C495.2,1638.2 498.7,1644.5 502.6,1650.2C506.5,1655.9 510.7,1661.4 515.1,1665.8C519.5,1670.2 524.2,1673.7 529.2,1676.8C534.2,1679.9 539.1,1682.4 544.8,1684.6C550.5,1686.8 557.1,1688.3 563.6,1689.9C570.1,1691.5 576.3,1693.0 583.9,1694.0C591.5,1695.0 604.8,1695.8 609.0,1696.2" fill="none" stroke="#000" stroke-width="2.00" stroke-linejoin="round" stroke-linecap="butt" stroke-dasharray="6,4.6"/>
<path d="M305.0,1696.5C307.2,1695.4 314.5,1693.1 318.0,1690.0C321.5,1686.9 323.8,1683.0 326.0,1678.0C328.2,1673.0 329.5,1666.3 331.0,1660.0C332.5,1653.7 333.8,1647.5 335.0,1640.0C336.2,1632.5 337.0,1623.3 338.0,1615.0C339.0,1606.7 339.8,1599.2 341.0,1590.0C342.2,1580.8 343.7,1568.5 345.0,1559.8C346.3,1551.1 347.6,1547.1 348.8,1537.8C350.1,1528.5 351.2,1514.6 352.5,1504.0C353.8,1493.4 354.8,1484.8 356.3,1474.0C357.8,1463.2 360.0,1447.2 361.3,1439.0C362.6,1430.8 363.2,1429.0 364.0,1425.0C364.8,1421.0 365.3,1419.2 366.3,1415.0C367.3,1410.8 368.8,1404.2 370.0,1400.0C371.2,1395.8 372.3,1393.3 373.8,1390.0C375.3,1386.7 376.9,1381.7 378.8,1380.0C380.7,1378.3 382.8,1378.5 385.0,1380.0C387.2,1381.5 390.3,1386.5 391.8,1388.8C393.3,1391.1 392.2,1391.0 393.8,1394.0C395.4,1397.0 398.8,1401.5 401.3,1406.5C403.8,1411.5 406.3,1418.2 408.8,1424.0C411.3,1429.8 414.2,1436.9 416.3,1441.5C418.4,1446.1 419.6,1446.9 421.3,1451.5C423.0,1456.1 424.6,1463.2 426.3,1469.0C428.0,1474.8 429.9,1481.1 431.3,1486.5C432.8,1491.9 434.0,1496.1 435.0,1501.5C436.0,1506.9 436.4,1513.2 437.5,1519.0C438.6,1524.8 439.6,1530.8 441.3,1536.5C443.0,1542.2 445.2,1545.7 447.8,1553.2C450.4,1560.7 454.1,1572.5 457.2,1581.4C460.3,1590.3 463.2,1598.6 466.6,1606.4C470.0,1614.2 473.9,1622.0 477.5,1628.3C481.1,1634.5 484.6,1638.7 488.5,1643.9C492.4,1649.1 496.6,1655.2 501.0,1659.6C505.4,1664.0 510.2,1667.4 515.1,1670.5C520.1,1673.6 525.0,1675.7 530.7,1678.3C536.4,1680.9 542.7,1684.0 549.5,1686.2C556.3,1688.4 563.6,1690.0 571.4,1691.5C579.2,1693.0 587.1,1694.1 596.5,1694.9C605.9,1695.7 622.5,1696.2 627.7,1696.5" fill="none" stroke="#000" stroke-width="2.00" stroke-linejoin="round" stroke-linecap="butt" stroke-dasharray="15,4.5,2.5,4.5"/>
<path d="M296.3,1696.6L297.0,1696.7L297.9,1697.1L299.0,1697.0L300.2,1696.6L301.5,1695.9L302.9,1695.4L304.3,1694.6L305.8,1694.5L307.2,1694.1L308.7,1694.1L310.0,1693.4L311.2,1692.6L312.5,1692.3L313.8,1691.9L315.1,1690.9L316.4,1690.6L317.7,1689.7L319.0,1689.0L320.3,1688.1L321.6,1688.0L322.8,1687.2L323.9,1686.4L325.0,1685.3L326.0,1684.8L327.0,1683.7L327.9,1682.8L328.8,1681.9L329.6,1680.7L330.5,1679.7L331.3,1678.3L332.0,1677.3L332.8,1676.5L333.5,1675.3L334.3,1674.3L335.0,1673.5L335.7,1671.9L336.4,1670.5L337.1,1669.2L337.7,1668.2L338.3,1667.1L338.9,1666.1L339.5,1664.6L340.1,1663.5L340.7,1662.1L341.3,1661.0L341.9,1659.3L342.5,1657.8L343.0,1656.6L343.4,1655.3L343.9,1654.1L344.4,1653.2L344.8,1652.1L345.3,1650.6L345.8,1649.1L346.2,1647.9L346.7,1646.4L347.2,1645.3L347.7,1644.4L348.1,1642.9L348.6,1641.7L349.1,1640.8L349.5,1639.3L350.0,1638.1L350.5,1636.6L350.9,1635.4L351.4,1634.4L351.9,1632.8L352.3,1631.6L352.8,1630.3L353.3,1629.0L353.8,1627.9L354.2,1626.2L354.7,1625.4L355.2,1623.7L355.6,1622.7L356.1,1621.5L356.6,1620.4L357.0,1619.1L357.5,1617.7L358.1,1616.4L358.8,1615.1L359.4,1614.0L360.0,1612.9L360.6,1611.6L361.2,1609.7L361.9,1608.5L362.5,1607.2L363.1,1605.9L363.8,1604.7L364.4,1603.8L365.0,1602.6L365.9,1601.5L366.8,1600.2L367.8,1599.7L368.7,1598.5L369.6,1598.0L370.5,1597.0L371.5,1596.3L372.5,1595.3L373.7,1594.4L374.9,1593.7L376.2,1592.9L377.5,1592.4L378.8,1591.8L380.0,1591.6L381.3,1591.2L382.7,1591.5L384.2,1591.6L385.6,1592.3L387.0,1593.3L388.5,1594.0L390.0,1594.7L391.1,1595.0L392.1,1595.4L393.2,1596.0L394.4,1596.8L395.5,1597.7L396.6,1598.5L397.8,1599.2L398.9,1599.8L400.0,1600.7L401.1,1601.7L402.2,1602.1L403.3,1603.0L404.4,1604.1L405.6,1604.6L406.7,1605.6L407.8,1606.3L408.9,1607.2L410.0,1608.1L411.0,1609.3L412.0,1610.2L413.0,1611.4L414.0,1612.3L415.0,1613.2L416.0,1614.0L417.0,1615.0L418.0,1615.7L419.0,1616.8L420.0,1618.1L420.8,1619.1L421.7,1620.6L422.5,1621.2L423.3,1622.1L424.2,1623.1L425.0,1623.9L425.8,1625.2L426.7,1626.3L427.5,1627.3L428.3,1629.0L429.2,1630.0L430.0,1631.3L430.8,1632.2L431.6,1633.4L432.4,1634.4L433.2,1635.5L434.0,1636.7L434.8,1637.7L435.7,1638.2L436.5,1639.3L437.3,1640.2L438.2,1641.0L439.1,1642.0L440.0,1643.0L440.9,1644.2L441.8,1645.0L442.7,1645.9L443.7,1647.0L444.6,1647.7L445.6,1648.6L446.6,1649.4L447.6,1650.3L448.6,1650.9L449.6,1652.3L450.6,1653.2L451.5,1654.2L452.5,1655.2L453.5,1656.3L454.6,1656.8L455.6,1657.7L456.7,1658.5L457.7,1659.4L458.8,1660.4L459.8,1661.1L460.8,1661.7L461.9,1662.2L462.9,1662.8L464.0,1663.5L465.0,1664.0L466.1,1664.5L467.3,1664.9L468.4,1666.4L469.5,1667.4L470.7,1668.4L471.8,1669.2L472.9,1669.5L474.1,1670.0L475.2,1670.5L476.4,1671.3L477.5,1671.5L478.6,1672.6L479.8,1673.2L480.9,1674.2L482.1,1674.8L483.2,1675.8L484.4,1676.1L485.5,1677.2L486.7,1677.6L487.8,1677.9L489.0,1678.5L490.1,1678.9L491.3,1679.4L492.6,1680.1L493.8,1680.8L495.0,1681.9L496.2,1682.2L497.4,1682.5L498.6,1682.7L499.9,1683.1L501.2,1683.6L502.6,1683.9L503.8,1684.2L505.0,1684.6L506.3,1685.3L507.6,1685.5L508.9,1686.1L510.2,1686.6L511.5,1687.1L512.9,1687.6L514.2,1688.1L515.6,1688.7L516.9,1688.8L518.2,1689.4L519.5,1689.3L520.8,1689.1L522.0,1689.2L523.3,1689.5L524.6,1689.7L525.9,1689.8L527.1,1690.2L528.4,1690.5L529.8,1691.0L531.1,1691.4L532.5,1691.6L533.9,1692.0L535.1,1692.6L536.4,1692.6L537.6,1692.5L538.8,1692.5L540.1,1692.4L541.4,1692.8L542.7,1693.1L544.0,1693.2L545.3,1693.4L546.7,1693.7L548.1,1693.9L549.6,1694.2L551.1,1694.3L552.6,1693.9L553.8,1694.2L554.9,1694.2L556.1,1694.1L557.4,1694.1L558.6,1694.4L559.8,1694.4L561.1,1694.8L562.4,1695.2L563.7,1695.6L565.0,1695.5L566.4,1695.4L567.7,1695.8L569.1,1696.1L570.5,1696.3L571.9,1696.6L573.3,1696.9L574.8,1696.8L576.2,1696.9L577.7,1696.9L578.9,1696.5L580.2,1696.4L581.5,1696.1L582.9,1696.2L584.4,1696.6L585.8,1696.6L587.3,1697.3L588.8,1697.0L590.4,1696.7L591.9,1696.7L593.4,1696.6L594.9,1697.3L596.4,1697.9L597.9,1698.0L599.3,1697.9L600.7,1697.6L602.0,1697.6L603.2,1697.7L604.4,1697.6L605.5,1697.4L606.5,1697.5L607.5,1697.3L608.3,1697.1L609.0,1697.2" fill="none" stroke="#000" stroke-width="1.15" stroke-linejoin="round" stroke-linecap="butt"/>
<line x1="109.10" y1="32.90" x2="109.10" y2="479.65" stroke="#000" stroke-width="1.70"/>
<line x1="662.30" y1="32.90" x2="662.30" y2="479.65" stroke="#000" stroke-width="1.25"/>
<line x1="99.50" y1="478.80" x2="671.70" y2="478.80" stroke="#000" stroke-width="1.70"/>
<line x1="156.52" y1="478.80" x2="156.52" y2="488.60" stroke="#000" stroke-width="1.70"/>
<text x="156.52" y="517.10" font-family="'Liberation Serif', serif" font-size="30.40" font-weight="normal" text-anchor="middle">250</text>
<line x1="235.55" y1="478.80" x2="235.55" y2="488.60" stroke="#000" stroke-width="1.70"/>
<text x="235.55" y="517.10" font-family="'Liberation Serif', serif" font-size="30.40" font-weight="normal" text-anchor="middle">300</text>
<line x1="314.57" y1="478.80" x2="314.57" y2="488.60" stroke="#000" stroke-width="1.70"/>
<text x="314.57" y="517.10" font-family="'Liberation Serif', serif" font-size="30.40" font-weight="normal" text-anchor="middle">350</text>
<line x1="393.60" y1="478.80" x2="393.60" y2="488.60" stroke="#000" stroke-width="1.70"/>
<text x="393.60" y="517.10" font-family="'Liberation Serif', serif" font-size="30.40" font-weight="normal" text-anchor="middle">400</text>
<line x1="472.63" y1="478.80" x2="472.63" y2="488.60" stroke="#000" stroke-width="1.70"/>
<text x="472.63" y="517.10" font-family="'Liberation Serif', serif" font-size="30.40" font-weight="normal" text-anchor="middle">450</text>
<line x1="551.66" y1="478.80" x2="551.66" y2="488.60" stroke="#000" stroke-width="1.70"/>
<text x="551.66" y="517.10" font-family="'Liberation Serif', serif" font-size="30.40" font-weight="normal" text-anchor="middle">500</text>
<line x1="630.69" y1="478.80" x2="630.69" y2="488.60" stroke="#000" stroke-width="1.70"/>
<text x="630.69" y="517.10" font-family="'Liberation Serif', serif" font-size="30.40" font-weight="normal" text-anchor="middle">550</text>
<line x1="117.00" y1="478.80" x2="117.00" y2="484.00" stroke="#000" stroke-width="1.70"/>
<line x1="196.03" y1="478.80" x2="196.03" y2="484.00" stroke="#000" stroke-width="1.70"/>
<line x1="275.06" y1="478.80" x2="275.06" y2="484.00" stroke="#000" stroke-width="1.70"/>
<line x1="354.09" y1="478.80" x2="354.09" y2="484.00" stroke="#000" stroke-width="1.70"/>
<line x1="433.12" y1="478.80" x2="433.12" y2="484.00" stroke="#000" stroke-width="1.70"/>
<line x1="512.15" y1="478.80" x2="512.15" y2="484.00" stroke="#000" stroke-width="1.70"/>
<line x1="591.17" y1="478.80" x2="591.17" y2="484.00" stroke="#000" stroke-width="1.70"/>
<line x1="99.50" y1="478.80" x2="109.10" y2="478.80" stroke="#000" stroke-width="1.70"/>
<text x="94.80" y="488.18" font-family="'Liberation Serif', serif" font-size="30.40" font-weight="normal" text-anchor="end">0</text>
<line x1="99.50" y1="381.95" x2="109.10" y2="381.95" stroke="#000" stroke-width="1.70"/>
<text x="94.80" y="391.33" font-family="'Liberation Serif', serif" font-size="30.40" font-weight="normal" text-anchor="end">50</text>
<line x1="99.50" y1="285.10" x2="109.10" y2="285.10" stroke="#000" stroke-width="1.70"/>
<text x="94.80" y="294.48" font-family="'Liberation Serif', serif" font-size="30.40" font-weight="normal" text-anchor="end">100</text>
<line x1="99.50" y1="188.25" x2="109.10" y2="188.25" stroke="#000" stroke-width="1.70"/>
<text x="94.80" y="197.63" font-family="'Liberation Serif', serif" font-size="30.40" font-weight="normal" text-anchor="end">150</text>
<line x1="99.50" y1="91.40" x2="109.10" y2="91.40" stroke="#000" stroke-width="1.70"/>
<text x="94.80" y="100.78" font-family="'Liberation Serif', serif" font-size="30.40" font-weight="normal" text-anchor="end">200</text>
<line x1="104.10" y1="430.38" x2="109.10" y2="430.38" stroke="#000" stroke-width="1.70"/>
<line x1="104.10" y1="333.52" x2="109.10" y2="333.52" stroke="#000" stroke-width="1.70"/>
<line x1="104.10" y1="236.68" x2="109.10" y2="236.68" stroke="#000" stroke-width="1.70"/>
<line x1="104.10" y1="139.82" x2="109.10" y2="139.82" stroke="#000" stroke-width="1.70"/>
<line x1="104.10" y1="42.98" x2="109.10" y2="42.98" stroke="#000" stroke-width="1.70"/>
<line x1="662.30" y1="478.80" x2="671.70" y2="478.80" stroke="#000" stroke-width="1.25"/>
<text x="677.00" y="488.08" font-family="'Liberation Serif', serif" font-size="30.40" font-weight="normal" text-anchor="start">0</text>
<line x1="662.30" y1="381.95" x2="671.70" y2="381.95" stroke="#000" stroke-width="1.25"/>
<text x="677.00" y="391.23" font-family="'Liberation Serif', serif" font-size="30.40" font-weight="normal" text-anchor="start">50</text>
<line x1="662.30" y1="285.10" x2="671.70" y2="285.10" stroke="#000" stroke-width="1.25"/>
<text x="677.00" y="294.38" font-family="'Liberation Serif', serif" font-size="30.40" font-weight="normal" text-anchor="start">100</text>
<line x1="662.30" y1="188.25" x2="671.70" y2="188.25" stroke="#000" stroke-width="1.25"/>
<text x="677.00" y="197.53" font-family="'Liberation Serif', serif" font-size="30.40" font-weight="normal" text-anchor="start">150</text>
<line x1="662.30" y1="91.40" x2="671.70" y2="91.40" stroke="#000" stroke-width="1.25"/>
<text x="677.00" y="100.68" font-family="'Liberation Serif', serif" font-size="30.40" font-weight="normal" text-anchor="start">200</text>
<line x1="662.30" y1="430.38" x2="667.30" y2="430.38" stroke="#000" stroke-width="1.25"/>
<line x1="662.30" y1="333.52" x2="667.30" y2="333.52" stroke="#000" stroke-width="1.25"/>
<line x1="662.30" y1="236.68" x2="667.30" y2="236.68" stroke="#000" stroke-width="1.25"/>
<line x1="662.30" y1="139.82" x2="667.30" y2="139.82" stroke="#000" stroke-width="1.25"/>
<line x1="662.30" y1="42.98" x2="667.30" y2="42.98" stroke="#000" stroke-width="1.25"/>
<text x="24.10" y="256.80" font-family="'Liberation Serif', serif" font-size="29.40" font-weight="normal" text-anchor="middle" transform="rotate(-90 24.10 256.80)">Fluorescence EX intensity (a.u.)</text>
<text x="760.00" y="257.70" font-family="'Liberation Serif', serif" font-size="29.40" font-weight="normal" text-anchor="middle" transform="rotate(-90 760.00 257.70)">Fluorescence EM intensity (a.u.)</text>
<text x="387.00" y="565.60" font-family="'Liberation Serif', serif" font-size="29.60" font-weight="normal" text-anchor="middle">Wavelength (nm)</text>
<text x="530.80" y="315.10" font-family="'Liberation Serif', serif" font-size="29.80" font-weight="normal" text-anchor="start">CH</text>
<text x="0.00" y="26.90" font-family="'Liberation Sans', sans-serif" font-size="49.50" font-weight="bold" text-anchor="start">a</text>
<line x1="106.60" y1="636.60" x2="106.60" y2="1088.35" stroke="#000" stroke-width="1.70"/>
<line x1="666.10" y1="636.60" x2="666.10" y2="1088.35" stroke="#000" stroke-width="1.25"/>
<line x1="97.00" y1="1087.50" x2="675.50" y2="1087.50" stroke="#000" stroke-width="1.70"/>
<line x1="106.60" y1="1087.50" x2="106.60" y2="1097.30" stroke="#000" stroke-width="1.70"/>
<text x="106.60" y="1126.20" font-family="'Liberation Serif', serif" font-size="30.40" font-weight="normal" text-anchor="middle">250</text>
<line x1="199.85" y1="1087.50" x2="199.85" y2="1097.30" stroke="#000" stroke-width="1.70"/>
<text x="199.85" y="1126.20" font-family="'Liberation Serif', serif" font-size="30.40" font-weight="normal" text-anchor="middle">300</text>
<line x1="293.10" y1="1087.50" x2="293.10" y2="1097.30" stroke="#000" stroke-width="1.70"/>
<text x="293.10" y="1126.20" font-family="'Liberation Serif', serif" font-size="30.40" font-weight="normal" text-anchor="middle">350</text>
<line x1="386.35" y1="1087.50" x2="386.35" y2="1097.30" stroke="#000" stroke-width="1.70"/>
<text x="386.35" y="1126.20" font-family="'Liberation Serif', serif" font-size="30.40" font-weight="normal" text-anchor="middle">400</text>
<line x1="479.60" y1="1087.50" x2="479.60" y2="1097.30" stroke="#000" stroke-width="1.70"/>
<text x="479.60" y="1126.20" font-family="'Liberation Serif', serif" font-size="30.40" font-weight="normal" text-anchor="middle">450</text>
<line x1="572.85" y1="1087.50" x2="572.85" y2="1097.30" stroke="#000" stroke-width="1.70"/>
<text x="572.85" y="1126.20" font-family="'Liberation Serif', serif" font-size="30.40" font-weight="normal" text-anchor="middle">500</text>
<line x1="666.10" y1="1087.50" x2="666.10" y2="1097.30" stroke="#000" stroke-width="1.70"/>
<text x="666.10" y="1126.20" font-family="'Liberation Serif', serif" font-size="30.40" font-weight="normal" text-anchor="middle">550</text>
<line x1="153.22" y1="1087.50" x2="153.22" y2="1092.70" stroke="#000" stroke-width="1.70"/>
<line x1="246.47" y1="1087.50" x2="246.47" y2="1092.70" stroke="#000" stroke-width="1.70"/>
<line x1="339.73" y1="1087.50" x2="339.73" y2="1092.70" stroke="#000" stroke-width="1.70"/>
<line x1="432.98" y1="1087.50" x2="432.98" y2="1092.70" stroke="#000" stroke-width="1.70"/>
<line x1="526.23" y1="1087.50" x2="526.23" y2="1092.70" stroke="#000" stroke-width="1.70"/>
<line x1="619.48" y1="1087.50" x2="619.48" y2="1092.70" stroke="#000" stroke-width="1.70"/>
<line x1="97.00" y1="1087.50" x2="106.60" y2="1087.50" stroke="#000" stroke-width="1.70"/>
<text x="91.30" y="1096.88" font-family="'Liberation Serif', serif" font-size="30.40" font-weight="normal" text-anchor="end">0</text>
<line x1="97.00" y1="985.02" x2="106.60" y2="985.02" stroke="#000" stroke-width="1.70"/>
<text x="91.30" y="994.40" font-family="'Liberation Serif', serif" font-size="30.40" font-weight="normal" text-anchor="end">200</text>
<line x1="97.00" y1="882.54" x2="106.60" y2="882.54" stroke="#000" stroke-width="1.70"/>
<text x="91.30" y="891.92" font-family="'Liberation Serif', serif" font-size="30.40" font-weight="normal" text-anchor="end">400</text>
<line x1="97.00" y1="780.06" x2="106.60" y2="780.06" stroke="#000" stroke-width="1.70"/>
<text x="91.30" y="789.44" font-family="'Liberation Serif', serif" font-size="30.40" font-weight="normal" text-anchor="end">600</text>
<line x1="97.00" y1="677.58" x2="106.60" y2="677.58" stroke="#000" stroke-width="1.70"/>
<text x="91.30" y="686.96" font-family="'Liberation Serif', serif" font-size="30.40" font-weight="normal" text-anchor="end">800</text>
<line x1="101.60" y1="1036.26" x2="106.60" y2="1036.26" stroke="#000" stroke-width="1.70"/>
<line x1="101.60" y1="933.78" x2="106.60" y2="933.78" stroke="#000" stroke-width="1.70"/>
<line x1="101.60" y1="831.30" x2="106.60" y2="831.30" stroke="#000" stroke-width="1.70"/>
<line x1="101.60" y1="728.82" x2="106.60" y2="728.82" stroke="#000" stroke-width="1.70"/>
<line x1="666.10" y1="1087.50" x2="675.50" y2="1087.50" stroke="#000" stroke-width="1.25"/>
<text x="681.30" y="1096.78" font-family="'Liberation Serif', serif" font-size="30.40" font-weight="normal" text-anchor="start">0</text>
<line x1="666.10" y1="986.80" x2="675.50" y2="986.80" stroke="#000" stroke-width="1.25"/>
<text x="681.30" y="996.08" font-family="'Liberation Serif', serif" font-size="30.40" font-weight="normal" text-anchor="start">200</text>
<line x1="666.10" y1="886.10" x2="675.50" y2="886.10" stroke="#000" stroke-width="1.25"/>
<text x="681.30" y="895.38" font-family="'Liberation Serif', serif" font-size="30.40" font-weight="normal" text-anchor="start">400</text>
<line x1="666.10" y1="785.40" x2="675.50" y2="785.40" stroke="#000" stroke-width="1.25"/>
<text x="681.30" y="794.68" font-family="'Liberation Serif', serif" font-size="30.40" font-weight="normal" text-anchor="start">600</text>
<line x1="666.10" y1="684.70" x2="675.50" y2="684.70" stroke="#000" stroke-width="1.25"/>
<text x="681.30" y="693.98" font-family="'Liberation Serif', serif" font-size="30.40" font-weight="normal" text-anchor="start">800</text>
<line x1="666.10" y1="1037.15" x2="671.10" y2="1037.15" stroke="#000" stroke-width="1.25"/>
<line x1="666.10" y1="936.45" x2="671.10" y2="936.45" stroke="#000" stroke-width="1.25"/>
<line x1="666.10" y1="835.75" x2="671.10" y2="835.75" stroke="#000" stroke-width="1.25"/>
<line x1="666.10" y1="735.05" x2="671.10" y2="735.05" stroke="#000" stroke-width="1.25"/>
<text x="24.20" y="862.70" font-family="'Liberation Serif', serif" font-size="29.70" font-weight="normal" text-anchor="middle" transform="rotate(-90 24.20 862.70)">Fluorescence EX Intensity (a.u.)</text>
<text x="759.80" y="882.40" font-family="'Liberation Serif', serif" font-size="29.70" font-weight="normal" text-anchor="middle" transform="rotate(-90 759.80 882.40)">Fluorescence EM Intensity (a.u.)</text>
<text x="387.30" y="1175.50" font-family="'Liberation Serif', serif" font-size="29.70" font-weight="normal" text-anchor="middle">Wavelength (nm)</text>
<text x="538.80" y="824.30" font-family="'Liberation Serif', serif" font-size="29.80" font-weight="normal" text-anchor="start">ACN</text>
<text x="0.00" y="627.30" font-family="'Liberation Sans', sans-serif" font-size="49.50" font-weight="bold" text-anchor="start">b</text>
<line x1="101.10" y1="1246.80" x2="101.10" y2="1699.55" stroke="#000" stroke-width="1.70"/>
<line x1="662.30" y1="1246.80" x2="662.30" y2="1699.55" stroke="#000" stroke-width="1.25"/>
<line x1="91.50" y1="1698.70" x2="671.70" y2="1698.70" stroke="#000" stroke-width="1.70"/>
<line x1="101.10" y1="1698.70" x2="101.10" y2="1708.50" stroke="#000" stroke-width="1.70"/>
<text x="101.10" y="1737.70" font-family="'Liberation Serif', serif" font-size="30.40" font-weight="normal" text-anchor="middle">250</text>
<line x1="181.27" y1="1698.70" x2="181.27" y2="1708.50" stroke="#000" stroke-width="1.70"/>
<text x="181.27" y="1737.70" font-family="'Liberation Serif', serif" font-size="30.40" font-weight="normal" text-anchor="middle">300</text>
<line x1="261.44" y1="1698.70" x2="261.44" y2="1708.50" stroke="#000" stroke-width="1.70"/>
<text x="261.44" y="1737.70" font-family="'Liberation Serif', serif" font-size="30.40" font-weight="normal" text-anchor="middle">350</text>
<line x1="341.61" y1="1698.70" x2="341.61" y2="1708.50" stroke="#000" stroke-width="1.70"/>
<text x="341.61" y="1737.70" font-family="'Liberation Serif', serif" font-size="30.40" font-weight="normal" text-anchor="middle">400</text>
<line x1="421.79" y1="1698.70" x2="421.79" y2="1708.50" stroke="#000" stroke-width="1.70"/>
<text x="421.79" y="1737.70" font-family="'Liberation Serif', serif" font-size="30.40" font-weight="normal" text-anchor="middle">450</text>
<line x1="501.96" y1="1698.70" x2="501.96" y2="1708.50" stroke="#000" stroke-width="1.70"/>
<text x="501.96" y="1737.70" font-family="'Liberation Serif', serif" font-size="30.40" font-weight="normal" text-anchor="middle">500</text>
<line x1="582.13" y1="1698.70" x2="582.13" y2="1708.50" stroke="#000" stroke-width="1.70"/>
<text x="582.13" y="1737.70" font-family="'Liberation Serif', serif" font-size="30.40" font-weight="normal" text-anchor="middle">550</text>
<line x1="662.30" y1="1698.70" x2="662.30" y2="1708.50" stroke="#000" stroke-width="1.70"/>
<text x="662.30" y="1737.70" font-family="'Liberation Serif', serif" font-size="30.40" font-weight="normal" text-anchor="middle">600</text>
<line x1="141.19" y1="1698.70" x2="141.19" y2="1703.90" stroke="#000" stroke-width="1.70"/>
<line x1="221.36" y1="1698.70" x2="221.36" y2="1703.90" stroke="#000" stroke-width="1.70"/>
<line x1="301.53" y1="1698.70" x2="301.53" y2="1703.90" stroke="#000" stroke-width="1.70"/>
<line x1="381.70" y1="1698.70" x2="381.70" y2="1703.90" stroke="#000" stroke-width="1.70"/>
<line x1="461.87" y1="1698.70" x2="461.87" y2="1703.90" stroke="#000" stroke-width="1.70"/>
<line x1="542.04" y1="1698.70" x2="542.04" y2="1703.90" stroke="#000" stroke-width="1.70"/>
<line x1="622.21" y1="1698.70" x2="622.21" y2="1703.90" stroke="#000" stroke-width="1.70"/>
<line x1="91.50" y1="1698.70" x2="101.10" y2="1698.70" stroke="#000" stroke-width="1.70"/>
<text x="85.50" y="1708.08" font-family="'Liberation Serif', serif" font-size="30.40" font-weight="normal" text-anchor="end">0</text>
<line x1="91.50" y1="1602.70" x2="101.10" y2="1602.70" stroke="#000" stroke-width="1.70"/>
<text x="85.50" y="1612.08" font-family="'Liberation Serif', serif" font-size="30.40" font-weight="normal" text-anchor="end">100</text>
<line x1="91.50" y1="1506.70" x2="101.10" y2="1506.70" stroke="#000" stroke-width="1.70"/>
<text x="85.50" y="1516.08" font-family="'Liberation Serif', serif" font-size="30.40" font-weight="normal" text-anchor="end">200</text>
<line x1="91.50" y1="1410.70" x2="101.10" y2="1410.70" stroke="#000" stroke-width="1.70"/>
<text x="85.50" y="1420.08" font-family="'Liberation Serif', serif" font-size="30.40" font-weight="normal" text-anchor="end">300</text>
<line x1="91.50" y1="1314.70" x2="101.10" y2="1314.70" stroke="#000" stroke-width="1.70"/>
<text x="85.50" y="1324.08" font-family="'Liberation Serif', serif" font-size="30.40" font-weight="normal" text-anchor="end">400</text>
<line x1="96.10" y1="1650.70" x2="101.10" y2="1650.70" stroke="#000" stroke-width="1.70"/>
<line x1="96.10" y1="1554.70" x2="101.10" y2="1554.70" stroke="#000" stroke-width="1.70"/>
<line x1="96.10" y1="1458.70" x2="101.10" y2="1458.70" stroke="#000" stroke-width="1.70"/>
<line x1="96.10" y1="1362.70" x2="101.10" y2="1362.70" stroke="#000" stroke-width="1.70"/>
<line x1="96.10" y1="1266.70" x2="101.10" y2="1266.70" stroke="#000" stroke-width="1.70"/>
<line x1="662.30" y1="1698.70" x2="671.70" y2="1698.70" stroke="#000" stroke-width="1.25"/>
<text x="677.90" y="1707.98" font-family="'Liberation Serif', serif" font-size="30.40" font-weight="normal" text-anchor="start">0</text>
<line x1="662.30" y1="1602.70" x2="671.70" y2="1602.70" stroke="#000" stroke-width="1.25"/>
<text x="677.90" y="1611.98" font-family="'Liberation Serif', serif" font-size="30.40" font-weight="normal" text-anchor="start">100</text>
<line x1="662.30" y1="1506.70" x2="671.70" y2="1506.70" stroke="#000" stroke-width="1.25"/>
<text x="677.90" y="1515.98" font-family="'Liberation Serif', serif" font-size="30.40" font-weight="normal" text-anchor="start">200</text>
<line x1="662.30" y1="1410.70" x2="671.70" y2="1410.70" stroke="#000" stroke-width="1.25"/>
<text x="677.90" y="1419.98" font-family="'Liberation Serif', serif" font-size="30.40" font-weight="normal" text-anchor="start">300</text>
<line x1="662.30" y1="1314.70" x2="671.70" y2="1314.70" stroke="#000" stroke-width="1.25"/>
<text x="677.90" y="1323.98" font-family="'Liberation Serif', serif" font-size="30.40" font-weight="normal" text-anchor="start">400</text>
<line x1="662.30" y1="1650.70" x2="667.30" y2="1650.70" stroke="#000" stroke-width="1.25"/>
<line x1="662.30" y1="1554.70" x2="667.30" y2="1554.70" stroke="#000" stroke-width="1.25"/>
<line x1="662.30" y1="1458.70" x2="667.30" y2="1458.70" stroke="#000" stroke-width="1.25"/>
<line x1="662.30" y1="1362.70" x2="667.30" y2="1362.70" stroke="#000" stroke-width="1.25"/>
<line x1="662.30" y1="1266.70" x2="667.30" y2="1266.70" stroke="#000" stroke-width="1.25"/>
<text x="21.10" y="1493.10" font-family="'Liberation Serif', serif" font-size="29.80" font-weight="normal" text-anchor="middle" transform="rotate(-90 21.10 1493.10)">Fluorescence EX intensity (a.u.)</text>
<text x="756.30" y="1493.40" font-family="'Liberation Serif', serif" font-size="29.80" font-weight="normal" text-anchor="middle" transform="rotate(-90 756.30 1493.40)">Fluorescence EM intensity (a.u.)</text>
<text x="381.30" y="1778.60" font-family="'Liberation Serif', serif" font-size="30.00" font-weight="normal" text-anchor="middle">Wavelength (nm)</text>
<text x="518.20" y="1457.30" font-family="'Liberation Serif', serif" font-size="29.80" font-weight="normal" text-anchor="start">DMSO</text>
<text x="0.00" y="1234.30" font-family="'Liberation Sans', sans-serif" font-size="49.50" font-weight="bold" text-anchor="start">c</text>
</svg>
</body></html>
